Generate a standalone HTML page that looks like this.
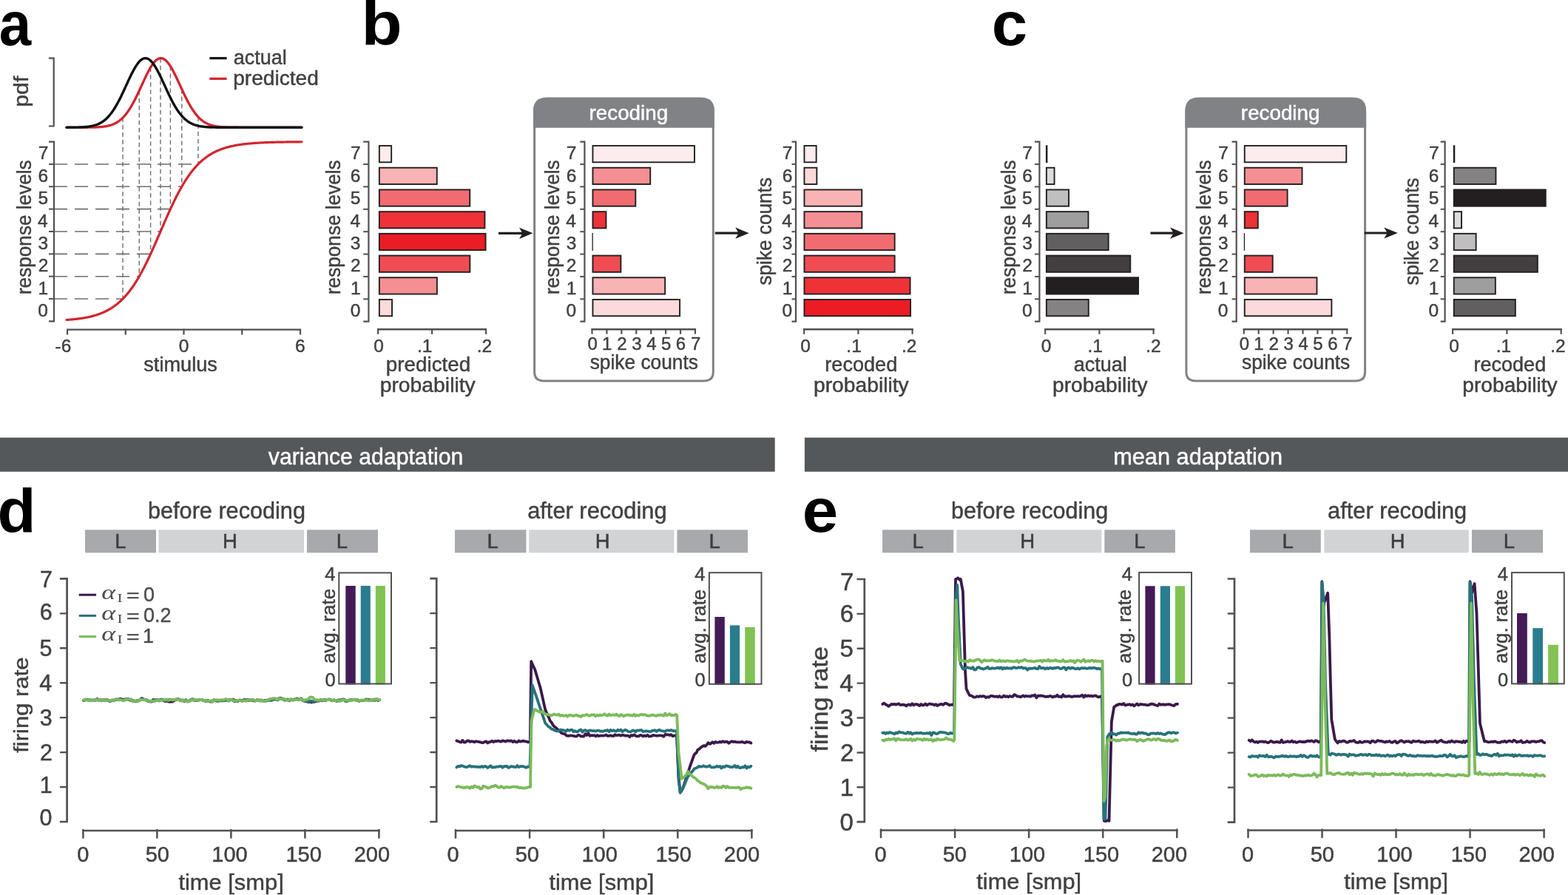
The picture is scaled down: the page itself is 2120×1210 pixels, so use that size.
<!DOCTYPE html>
<html><head><meta charset="utf-8"><title>Figure</title>
<style>html,body{margin:0;padding:0;background:#fff;}svg{display:block;}</style></head>
<body>
<svg width="2120" height="1210" viewBox="0 0 2120 1210">
<rect width="2120" height="1210" fill="#fff"/>
<text x="-1.14" y="60.50" font-size="84.00" font-family="Liberation Sans, sans-serif" font-weight="bold" fill="#000" stroke="none" textLength="43.45" lengthAdjust="spacingAndGlyphs">a</text>
<text x="488.53" y="60.50" font-size="84.00" font-family="Liberation Sans, sans-serif" font-weight="bold" fill="#000" stroke="none" textLength="55.16" lengthAdjust="spacingAndGlyphs">b</text>
<text x="1340.72" y="61.00" font-size="84.00" font-family="Liberation Sans, sans-serif" font-weight="bold" fill="#000" stroke="none" textLength="48.37" lengthAdjust="spacingAndGlyphs">c</text>
<text x="-3.41" y="719.50" font-size="84.00" font-family="Liberation Sans, sans-serif" font-weight="bold" fill="#000" stroke="none" textLength="52.01" lengthAdjust="spacingAndGlyphs">d</text>
<text x="1084.82" y="719.20" font-size="84.00" font-family="Liberation Sans, sans-serif" font-weight="bold" fill="#000" stroke="none" textLength="48.41" lengthAdjust="spacingAndGlyphs">e</text>
<path d="M65.9 78.6 H72.7 V170.5 H65.9" fill="none" stroke="#505153" stroke-width="2.2"/>
<text transform="translate(37.70 142.70) rotate(-90)" x="-1.96" y="0" font-size="27.50" font-family="Liberation Sans, sans-serif" stroke-width="0.45" fill="#414042" stroke="#414042" textLength="41.89" lengthAdjust="spacingAndGlyphs">pdf</text>
<line x1="73.00" y1="404.05" x2="166.02" y2="404.05" stroke="#6d6e71" stroke-width="1.60" stroke-dasharray="18 10"/>
<line x1="73.00" y1="373.70" x2="188.22" y2="373.70" stroke="#6d6e71" stroke-width="1.60" stroke-dasharray="18 10"/>
<line x1="73.00" y1="343.35" x2="203.62" y2="343.35" stroke="#6d6e71" stroke-width="1.60" stroke-dasharray="18 10"/>
<line x1="73.00" y1="313.00" x2="217.00" y2="313.00" stroke="#6d6e71" stroke-width="1.60" stroke-dasharray="18 10"/>
<line x1="73.00" y1="282.65" x2="230.38" y2="282.65" stroke="#6d6e71" stroke-width="1.60" stroke-dasharray="18 10"/>
<line x1="73.00" y1="252.30" x2="245.78" y2="252.30" stroke="#6d6e71" stroke-width="1.60" stroke-dasharray="18 10"/>
<line x1="73.00" y1="221.95" x2="267.98" y2="221.95" stroke="#6d6e71" stroke-width="1.60" stroke-dasharray="18 10"/>
<line x1="166.02" y1="159.12" x2="166.02" y2="404.05" stroke="#6d6e71" stroke-width="1.40" stroke-dasharray="6 4"/>
<line x1="188.22" y1="122.66" x2="188.22" y2="373.70" stroke="#6d6e71" stroke-width="1.40" stroke-dasharray="6 4"/>
<line x1="203.62" y1="91.14" x2="203.62" y2="343.35" stroke="#6d6e71" stroke-width="1.40" stroke-dasharray="6 4"/>
<line x1="217.00" y1="78.72" x2="217.00" y2="313.00" stroke="#6d6e71" stroke-width="1.40" stroke-dasharray="6 4"/>
<line x1="230.38" y1="89.51" x2="230.38" y2="282.65" stroke="#6d6e71" stroke-width="1.40" stroke-dasharray="6 4"/>
<line x1="245.78" y1="120.50" x2="245.78" y2="252.30" stroke="#6d6e71" stroke-width="1.40" stroke-dasharray="6 4"/>
<line x1="267.98" y1="158.09" x2="267.98" y2="221.95" stroke="#6d6e71" stroke-width="1.40" stroke-dasharray="6 4"/>
<path d="M90.00 172.30 L91.00 172.30 L92.00 172.30 L93.00 172.30 L94.00 172.30 L95.00 172.30 L96.00 172.30 L97.00 172.30 L98.00 172.30 L99.00 172.30 L100.00 172.30 L101.00 172.30 L102.00 172.30 L103.00 172.29 L104.00 172.29 L105.00 172.29 L106.00 172.29 L107.00 172.29 L108.00 172.29 L109.00 172.28 L110.00 172.28 L111.00 172.28 L112.00 172.28 L113.00 172.27 L114.00 172.27 L115.00 172.26 L116.00 172.25 L117.00 172.25 L118.00 172.24 L119.00 172.23 L120.00 172.22 L121.00 172.20 L122.00 172.19 L123.00 172.17 L124.00 172.15 L125.00 172.13 L126.00 172.11 L127.00 172.08 L128.00 172.05 L129.00 172.01 L130.00 171.97 L131.00 171.93 L132.00 171.88 L133.00 171.82 L134.00 171.76 L135.00 171.69 L136.00 171.61 L137.00 171.52 L138.00 171.43 L139.00 171.32 L140.00 171.20 L141.00 171.07 L142.00 170.92 L143.00 170.76 L144.00 170.58 L145.00 170.38 L146.00 170.17 L147.00 169.93 L148.00 169.67 L149.00 169.39 L150.00 169.08 L151.00 168.75 L152.00 168.38 L153.00 167.99 L154.00 167.56 L155.00 167.09 L156.00 166.59 L157.00 166.06 L158.00 165.48 L159.00 164.85 L160.00 164.19 L161.00 163.47 L162.00 162.71 L163.00 161.90 L164.00 161.03 L165.00 160.11 L166.00 159.14 L167.00 158.11 L168.00 157.02 L169.00 155.87 L170.00 154.66 L171.00 153.39 L172.00 152.06 L173.00 150.66 L174.00 149.21 L175.00 147.69 L176.00 146.12 L177.00 144.48 L178.00 142.78 L179.00 141.03 L180.00 139.22 L181.00 137.36 L182.00 135.45 L183.00 133.49 L184.00 131.49 L185.00 129.45 L186.00 127.37 L187.00 125.26 L188.00 123.13 L189.00 120.97 L190.00 118.80 L191.00 116.62 L192.00 114.44 L193.00 112.26 L194.00 110.09 L195.00 107.93 L196.00 105.80 L197.00 103.71 L198.00 101.65 L199.00 99.63 L200.00 97.67 L201.00 95.77 L202.00 93.94 L203.00 92.18 L204.00 90.50 L205.00 88.92 L206.00 87.42 L207.00 86.03 L208.00 84.74 L209.00 83.57 L210.00 82.51 L211.00 81.58 L212.00 80.77 L213.00 80.09 L214.00 79.54 L215.00 79.13 L216.00 78.86 L217.00 78.72 L218.00 78.72 L219.00 78.86 L220.00 79.13 L221.00 79.54 L222.00 80.09 L223.00 80.77 L224.00 81.58 L225.00 82.51 L226.00 83.57 L227.00 84.74 L228.00 86.03 L229.00 87.42 L230.00 88.92 L231.00 90.50 L232.00 92.18 L233.00 93.94 L234.00 95.77 L235.00 97.67 L236.00 99.63 L237.00 101.65 L238.00 103.71 L239.00 105.80 L240.00 107.93 L241.00 110.09 L242.00 112.26 L243.00 114.44 L244.00 116.62 L245.00 118.80 L246.00 120.97 L247.00 123.13 L248.00 125.26 L249.00 127.37 L250.00 129.45 L251.00 131.49 L252.00 133.49 L253.00 135.45 L254.00 137.36 L255.00 139.22 L256.00 141.03 L257.00 142.78 L258.00 144.48 L259.00 146.12 L260.00 147.69 L261.00 149.21 L262.00 150.66 L263.00 152.06 L264.00 153.39 L265.00 154.66 L266.00 155.87 L267.00 157.02 L268.00 158.11 L269.00 159.14 L270.00 160.11 L271.00 161.03 L272.00 161.90 L273.00 162.71 L274.00 163.47 L275.00 164.19 L276.00 164.85 L277.00 165.48 L278.00 166.06 L279.00 166.59 L280.00 167.09 L281.00 167.56 L282.00 167.99 L283.00 168.38 L284.00 168.75 L285.00 169.08 L286.00 169.39 L287.00 169.67 L288.00 169.93 L289.00 170.17 L290.00 170.38 L291.00 170.58 L292.00 170.76 L293.00 170.92 L294.00 171.07 L295.00 171.20 L296.00 171.32 L297.00 171.43 L298.00 171.52 L299.00 171.61 L300.00 171.69 L301.00 171.76 L302.00 171.82 L303.00 171.88 L304.00 171.93 L305.00 171.97 L306.00 172.01 L307.00 172.05 L308.00 172.08 L309.00 172.11 L310.00 172.13 L311.00 172.15 L312.00 172.17 L313.00 172.19 L314.00 172.20 L315.00 172.22 L316.00 172.23 L317.00 172.24 L318.00 172.25 L319.00 172.25 L320.00 172.26 L321.00 172.27 L322.00 172.27 L323.00 172.28 L324.00 172.28 L325.00 172.28 L326.00 172.28 L327.00 172.29 L328.00 172.29 L329.00 172.29 L330.00 172.29 L331.00 172.29 L332.00 172.29 L333.00 172.30 L334.00 172.30 L335.00 172.30 L336.00 172.30 L337.00 172.30 L338.00 172.30 L339.00 172.30 L340.00 172.30 L341.00 172.30 L342.00 172.30 L343.00 172.30 L344.00 172.30 L345.00 172.30 L346.00 172.30 L347.00 172.30 L348.00 172.30 L349.00 172.30 L350.00 172.30 L351.00 172.30 L352.00 172.30 L353.00 172.30 L354.00 172.30 L355.00 172.30 L356.00 172.30 L357.00 172.30 L358.00 172.30 L359.00 172.30 L360.00 172.30 L361.00 172.30 L362.00 172.30 L363.00 172.30 L364.00 172.30 L365.00 172.30 L366.00 172.30 L367.00 172.30 L368.00 172.30 L369.00 172.30 L370.00 172.30 L371.00 172.30 L372.00 172.30 L373.00 172.30 L374.00 172.30 L375.00 172.30 L376.00 172.30 L377.00 172.30 L378.00 172.30 L379.00 172.30 L380.00 172.30 L381.00 172.30 L382.00 172.30 L383.00 172.30 L384.00 172.30 L385.00 172.30 L386.00 172.30 L387.00 172.30 L388.00 172.30 L389.00 172.30 L390.00 172.30 L391.00 172.30 L392.00 172.30 L393.00 172.30 L394.00 172.30 L395.00 172.30 L396.00 172.30 L397.00 172.30 L398.00 172.30 L399.00 172.30 L400.00 172.30 L401.00 172.30 L402.00 172.30 L403.00 172.30 L404.00 172.30 L405.00 172.30 L406.00 172.30 L407.00 172.30 L408.00 172.30" fill="none" stroke="#d2262f" stroke-width="3.30" stroke-linejoin="round" stroke-linecap="round" />
<path d="M90.00 172.28 L91.00 172.28 L92.00 172.27 L93.00 172.27 L94.00 172.26 L95.00 172.25 L96.00 172.25 L97.00 172.24 L98.00 172.23 L99.00 172.22 L100.00 172.21 L101.00 172.19 L102.00 172.18 L103.00 172.16 L104.00 172.14 L105.00 172.11 L106.00 172.08 L107.00 172.05 L108.00 172.02 L109.00 171.98 L110.00 171.94 L111.00 171.89 L112.00 171.83 L113.00 171.77 L114.00 171.70 L115.00 171.62 L116.00 171.53 L117.00 171.44 L118.00 171.33 L119.00 171.21 L120.00 171.08 L121.00 170.93 L122.00 170.77 L123.00 170.60 L124.00 170.40 L125.00 170.19 L126.00 169.95 L127.00 169.70 L128.00 169.42 L129.00 169.11 L130.00 168.78 L131.00 168.42 L132.00 168.03 L133.00 167.60 L134.00 167.14 L135.00 166.65 L136.00 166.11 L137.00 165.54 L138.00 164.92 L139.00 164.25 L140.00 163.55 L141.00 162.79 L142.00 161.98 L143.00 161.12 L144.00 160.21 L145.00 159.24 L146.00 158.21 L147.00 157.13 L148.00 155.99 L149.00 154.78 L150.00 153.52 L151.00 152.19 L152.00 150.81 L153.00 149.36 L154.00 147.85 L155.00 146.28 L156.00 144.64 L157.00 142.95 L158.00 141.21 L159.00 139.40 L160.00 137.55 L161.00 135.64 L162.00 133.69 L163.00 131.69 L164.00 129.65 L165.00 127.58 L166.00 125.47 L167.00 123.34 L168.00 121.19 L169.00 119.02 L170.00 116.84 L171.00 114.66 L172.00 112.47 L173.00 110.30 L174.00 108.15 L175.00 106.02 L176.00 103.91 L177.00 101.85 L178.00 99.83 L179.00 97.87 L180.00 95.96 L181.00 94.12 L182.00 92.35 L183.00 90.67 L184.00 89.07 L185.00 87.57 L186.00 86.16 L187.00 84.87 L188.00 83.68 L189.00 82.61 L190.00 81.67 L191.00 80.85 L192.00 80.15 L193.00 79.59 L194.00 79.17 L195.00 78.88 L196.00 78.72 L197.00 78.71 L198.00 78.84 L199.00 79.10 L200.00 79.50 L201.00 80.03 L202.00 80.70 L203.00 81.49 L204.00 82.42 L205.00 83.46 L206.00 84.62 L207.00 85.90 L208.00 87.28 L209.00 88.76 L210.00 90.34 L211.00 92.01 L212.00 93.76 L213.00 95.59 L214.00 97.48 L215.00 99.43 L216.00 101.44 L217.00 103.50 L218.00 105.59 L219.00 107.72 L220.00 109.87 L221.00 112.04 L222.00 114.22 L223.00 116.40 L224.00 118.58 L225.00 120.75 L226.00 122.91 L227.00 125.05 L228.00 127.16 L229.00 129.24 L230.00 131.29 L231.00 133.29 L232.00 135.25 L233.00 137.17 L234.00 139.04 L235.00 140.85 L236.00 142.61 L237.00 144.31 L238.00 145.95 L239.00 147.54 L240.00 149.06 L241.00 150.52 L242.00 151.92 L243.00 153.26 L244.00 154.54 L245.00 155.75 L246.00 156.91 L247.00 158.00 L248.00 159.04 L249.00 160.02 L250.00 160.94 L251.00 161.81 L252.00 162.63 L253.00 163.40 L254.00 164.12 L255.00 164.79 L256.00 165.42 L257.00 166.00 L258.00 166.54 L259.00 167.05 L260.00 167.51 L261.00 167.94 L262.00 168.34 L263.00 168.71 L264.00 169.05 L265.00 169.36 L266.00 169.64 L267.00 169.91 L268.00 170.14 L269.00 170.36 L270.00 170.56 L271.00 170.74 L272.00 170.90 L273.00 171.05 L274.00 171.19 L275.00 171.31 L276.00 171.42 L277.00 171.52 L278.00 171.60 L279.00 171.68 L280.00 171.75 L281.00 171.82 L282.00 171.87 L283.00 171.93 L284.00 171.97 L285.00 172.01 L286.00 172.05 L287.00 172.08 L288.00 172.11 L289.00 172.13 L290.00 172.15 L291.00 172.17 L292.00 172.19 L293.00 172.20 L294.00 172.22 L295.00 172.23 L296.00 172.24 L297.00 172.25 L298.00 172.25 L299.00 172.26 L300.00 172.27 L301.00 172.27 L302.00 172.27 L303.00 172.28 L304.00 172.28 L305.00 172.28 L306.00 172.29 L307.00 172.29 L308.00 172.29 L309.00 172.29 L310.00 172.29 L311.00 172.29 L312.00 172.30 L313.00 172.30 L314.00 172.30 L315.00 172.30 L316.00 172.30 L317.00 172.30 L318.00 172.30 L319.00 172.30 L320.00 172.30 L321.00 172.30 L322.00 172.30 L323.00 172.30 L324.00 172.30 L325.00 172.30 L326.00 172.30 L327.00 172.30 L328.00 172.30 L329.00 172.30 L330.00 172.30 L331.00 172.30 L332.00 172.30 L333.00 172.30 L334.00 172.30 L335.00 172.30 L336.00 172.30 L337.00 172.30 L338.00 172.30 L339.00 172.30 L340.00 172.30 L341.00 172.30 L342.00 172.30 L343.00 172.30 L344.00 172.30 L345.00 172.30 L346.00 172.30 L347.00 172.30 L348.00 172.30 L349.00 172.30 L350.00 172.30 L351.00 172.30 L352.00 172.30 L353.00 172.30 L354.00 172.30 L355.00 172.30 L356.00 172.30 L357.00 172.30 L358.00 172.30 L359.00 172.30 L360.00 172.30 L361.00 172.30 L362.00 172.30 L363.00 172.30 L364.00 172.30 L365.00 172.30 L366.00 172.30 L367.00 172.30 L368.00 172.30 L369.00 172.30 L370.00 172.30 L371.00 172.30 L372.00 172.30 L373.00 172.30 L374.00 172.30 L375.00 172.30 L376.00 172.30 L377.00 172.30 L378.00 172.30 L379.00 172.30 L380.00 172.30 L381.00 172.30 L382.00 172.30 L383.00 172.30 L384.00 172.30 L385.00 172.30 L386.00 172.30 L387.00 172.30 L388.00 172.30 L389.00 172.30 L390.00 172.30 L391.00 172.30 L392.00 172.30 L393.00 172.30 L394.00 172.30 L395.00 172.30 L396.00 172.30 L397.00 172.30 L398.00 172.30 L399.00 172.30 L400.00 172.30 L401.00 172.30 L402.00 172.30 L403.00 172.30 L404.00 172.30 L405.00 172.30 L406.00 172.30 L407.00 172.30 L408.00 172.30" fill="none" stroke="#111111" stroke-width="3.40" stroke-linejoin="round" stroke-linecap="round" />
<line x1="283.40" y1="78.70" x2="306.60" y2="78.70" stroke="#111111" stroke-width="3.20" />
<line x1="283.40" y1="106.40" x2="306.60" y2="106.40" stroke="#d2262f" stroke-width="3.20" />
<text x="315.85" y="86.80" font-size="27.00" font-family="Liberation Sans, sans-serif" stroke-width="0.45" fill="#414042" stroke="#414042" textLength="71.93" lengthAdjust="spacingAndGlyphs">actual</text>
<text x="315.17" y="114.50" font-size="27.00" font-family="Liberation Sans, sans-serif" stroke-width="0.45" fill="#414042" stroke="#414042" textLength="115.62" lengthAdjust="spacingAndGlyphs">predicted</text>
<path d="M66 191.60 H73 V434.40 H66" fill="none" stroke="#505153" stroke-width="2.2"/>
<line x1="66.00" y1="221.95" x2="73.00" y2="221.95" stroke="#505153" stroke-width="2.00" />
<line x1="66.00" y1="252.30" x2="73.00" y2="252.30" stroke="#505153" stroke-width="2.00" />
<line x1="66.00" y1="282.65" x2="73.00" y2="282.65" stroke="#505153" stroke-width="2.00" />
<line x1="66.00" y1="313.00" x2="73.00" y2="313.00" stroke="#505153" stroke-width="2.00" />
<line x1="66.00" y1="343.35" x2="73.00" y2="343.35" stroke="#505153" stroke-width="2.00" />
<line x1="66.00" y1="373.70" x2="73.00" y2="373.70" stroke="#505153" stroke-width="2.00" />
<line x1="66.00" y1="404.05" x2="73.00" y2="404.05" stroke="#505153" stroke-width="2.00" />
<path d="M90.00 432.51 L91.00 432.44 L92.00 432.36 L93.00 432.28 L94.00 432.20 L95.00 432.12 L96.00 432.03 L97.00 431.94 L98.00 431.84 L99.00 431.74 L100.00 431.64 L101.00 431.53 L102.00 431.42 L103.00 431.31 L104.00 431.19 L105.00 431.07 L106.00 430.94 L107.00 430.81 L108.00 430.67 L109.00 430.53 L110.00 430.38 L111.00 430.23 L112.00 430.07 L113.00 429.90 L114.00 429.73 L115.00 429.55 L116.00 429.37 L117.00 429.17 L118.00 428.98 L119.00 428.77 L120.00 428.56 L121.00 428.33 L122.00 428.10 L123.00 427.87 L124.00 427.62 L125.00 427.36 L126.00 427.10 L127.00 426.82 L128.00 426.54 L129.00 426.24 L130.00 425.93 L131.00 425.62 L132.00 425.29 L133.00 424.95 L134.00 424.59 L135.00 424.23 L136.00 423.85 L137.00 423.46 L138.00 423.05 L139.00 422.63 L140.00 422.20 L141.00 421.75 L142.00 421.28 L143.00 420.80 L144.00 420.30 L145.00 419.78 L146.00 419.25 L147.00 418.70 L148.00 418.13 L149.00 417.54 L150.00 416.93 L151.00 416.30 L152.00 415.65 L153.00 414.98 L154.00 414.29 L155.00 413.58 L156.00 412.84 L157.00 412.07 L158.00 411.29 L159.00 410.48 L160.00 409.64 L161.00 408.78 L162.00 407.89 L163.00 406.98 L164.00 406.04 L165.00 405.07 L166.00 404.07 L167.00 403.04 L168.00 401.98 L169.00 400.90 L170.00 399.78 L171.00 398.63 L172.00 397.45 L173.00 396.24 L174.00 394.99 L175.00 393.72 L176.00 392.41 L177.00 391.07 L178.00 389.69 L179.00 388.28 L180.00 386.84 L181.00 385.36 L182.00 383.85 L183.00 382.31 L184.00 380.73 L185.00 379.12 L186.00 377.47 L187.00 375.79 L188.00 374.08 L189.00 372.33 L190.00 370.55 L191.00 368.74 L192.00 366.89 L193.00 365.02 L194.00 363.11 L195.00 361.17 L196.00 359.21 L197.00 357.21 L198.00 355.19 L199.00 353.14 L200.00 351.06 L201.00 348.96 L202.00 346.83 L203.00 344.68 L204.00 342.52 L205.00 340.33 L206.00 338.12 L207.00 335.89 L208.00 333.65 L209.00 331.39 L210.00 329.12 L211.00 326.84 L212.00 324.55 L213.00 322.25 L214.00 319.94 L215.00 317.63 L216.00 315.32 L217.00 313.00 L218.00 310.68 L219.00 308.37 L220.00 306.06 L221.00 303.75 L222.00 301.45 L223.00 299.16 L224.00 296.88 L225.00 294.61 L226.00 292.35 L227.00 290.11 L228.00 287.88 L229.00 285.67 L230.00 283.48 L231.00 281.32 L232.00 279.17 L233.00 277.04 L234.00 274.94 L235.00 272.86 L236.00 270.81 L237.00 268.79 L238.00 266.79 L239.00 264.83 L240.00 262.89 L241.00 260.98 L242.00 259.11 L243.00 257.26 L244.00 255.45 L245.00 253.67 L246.00 251.92 L247.00 250.21 L248.00 248.53 L249.00 246.88 L250.00 245.27 L251.00 243.69 L252.00 242.15 L253.00 240.64 L254.00 239.16 L255.00 237.72 L256.00 236.31 L257.00 234.93 L258.00 233.59 L259.00 232.28 L260.00 231.01 L261.00 229.76 L262.00 228.55 L263.00 227.37 L264.00 226.22 L265.00 225.10 L266.00 224.02 L267.00 222.96 L268.00 221.93 L269.00 220.93 L270.00 219.96 L271.00 219.02 L272.00 218.11 L273.00 217.22 L274.00 216.36 L275.00 215.52 L276.00 214.71 L277.00 213.93 L278.00 213.16 L279.00 212.42 L280.00 211.71 L281.00 211.02 L282.00 210.35 L283.00 209.70 L284.00 209.07 L285.00 208.46 L286.00 207.87 L287.00 207.30 L288.00 206.75 L289.00 206.22 L290.00 205.70 L291.00 205.20 L292.00 204.72 L293.00 204.25 L294.00 203.80 L295.00 203.37 L296.00 202.95 L297.00 202.54 L298.00 202.15 L299.00 201.77 L300.00 201.41 L301.00 201.05 L302.00 200.71 L303.00 200.38 L304.00 200.07 L305.00 199.76 L306.00 199.46 L307.00 199.18 L308.00 198.90 L309.00 198.64 L310.00 198.38 L311.00 198.13 L312.00 197.90 L313.00 197.67 L314.00 197.44 L315.00 197.23 L316.00 197.02 L317.00 196.83 L318.00 196.63 L319.00 196.45 L320.00 196.27 L321.00 196.10 L322.00 195.93 L323.00 195.77 L324.00 195.62 L325.00 195.47 L326.00 195.33 L327.00 195.19 L328.00 195.06 L329.00 194.93 L330.00 194.81 L331.00 194.69 L332.00 194.58 L333.00 194.47 L334.00 194.36 L335.00 194.26 L336.00 194.16 L337.00 194.06 L338.00 193.97 L339.00 193.88 L340.00 193.80 L341.00 193.72 L342.00 193.64 L343.00 193.56 L344.00 193.49 L345.00 193.42 L346.00 193.35 L347.00 193.29 L348.00 193.23 L349.00 193.16 L350.00 193.11 L351.00 193.05 L352.00 193.00 L353.00 192.94 L354.00 192.89 L355.00 192.85 L356.00 192.80 L357.00 192.75 L358.00 192.71 L359.00 192.67 L360.00 192.63 L361.00 192.59 L362.00 192.55 L363.00 192.52 L364.00 192.49 L365.00 192.45 L366.00 192.42 L367.00 192.39 L368.00 192.36 L369.00 192.33 L370.00 192.30 L371.00 192.28 L372.00 192.25 L373.00 192.23 L374.00 192.20 L375.00 192.18 L376.00 192.16 L377.00 192.14 L378.00 192.12 L379.00 192.10 L380.00 192.08 L381.00 192.06 L382.00 192.05 L383.00 192.03 L384.00 192.01 L385.00 192.00 L386.00 191.98 L387.00 191.97 L388.00 191.95 L389.00 191.94 L390.00 191.93 L391.00 191.92 L392.00 191.90 L393.00 191.89 L394.00 191.88 L395.00 191.87 L396.00 191.86 L397.00 191.85 L398.00 191.84 L399.00 191.83 L400.00 191.82 L401.00 191.82 L402.00 191.81 L403.00 191.80 L404.00 191.79 L405.00 191.79 L406.00 191.78 L407.00 191.77 L408.00 191.77" fill="none" stroke="#d2262f" stroke-width="3.20" stroke-linejoin="round" stroke-linecap="round" />
<text x="51.32" y="428.01" font-size="24.50" font-family="Liberation Sans, sans-serif" stroke-width="0.45" fill="#414042" stroke="#414042">0</text>
<text x="51.57" y="397.64" font-size="24.50" font-family="Liberation Sans, sans-serif" stroke-width="0.45" fill="#414042" stroke="#414042">1</text>
<text x="51.63" y="367.26" font-size="24.50" font-family="Liberation Sans, sans-serif" stroke-width="0.45" fill="#414042" stroke="#414042">2</text>
<text x="51.44" y="336.89" font-size="24.50" font-family="Liberation Sans, sans-serif" stroke-width="0.45" fill="#414042" stroke="#414042">3</text>
<text x="51.08" y="306.51" font-size="24.50" font-family="Liberation Sans, sans-serif" stroke-width="0.45" fill="#414042" stroke="#414042">4</text>
<text x="51.38" y="276.14" font-size="24.50" font-family="Liberation Sans, sans-serif" stroke-width="0.45" fill="#414042" stroke="#414042">5</text>
<text x="51.44" y="245.76" font-size="24.50" font-family="Liberation Sans, sans-serif" stroke-width="0.45" fill="#414042" stroke="#414042">6</text>
<text x="51.63" y="215.39" font-size="24.50" font-family="Liberation Sans, sans-serif" stroke-width="0.45" fill="#414042" stroke="#414042">7</text>
<text transform="translate(42.20 396.40) rotate(-90)" x="-1.70" y="0" font-size="28.00" font-family="Liberation Sans, sans-serif" stroke-width="0.45" fill="#414042" stroke="#414042" textLength="181.74" lengthAdjust="spacingAndGlyphs">response levels</text>
<line x1="91.00" y1="445.60" x2="406.00" y2="445.60" stroke="#505153" stroke-width="2.40" />
<line x1="91.00" y1="444.60" x2="91.00" y2="452.50" stroke="#505153" stroke-width="2.20" />
<line x1="169.75" y1="444.60" x2="169.75" y2="452.50" stroke="#505153" stroke-width="2.20" />
<line x1="248.50" y1="444.60" x2="248.50" y2="452.50" stroke="#505153" stroke-width="2.20" />
<line x1="327.25" y1="444.60" x2="327.25" y2="452.50" stroke="#505153" stroke-width="2.20" />
<line x1="406.00" y1="444.60" x2="406.00" y2="452.50" stroke="#505153" stroke-width="2.20" />
<text x="74.50" y="476.00" font-size="24.50" font-family="Liberation Sans, sans-serif" stroke-width="0.45" fill="#414042" stroke="#414042">-6</text>
<text x="241.67" y="476.00" font-size="24.50" font-family="Liberation Sans, sans-serif" stroke-width="0.45" fill="#414042" stroke="#414042">0</text>
<text x="399.11" y="476.00" font-size="24.50" font-family="Liberation Sans, sans-serif" stroke-width="0.45" fill="#414042" stroke="#414042">6</text>
<text x="194.25" y="502.00" font-size="27.00" font-family="Liberation Sans, sans-serif" stroke-width="0.45" fill="#414042" stroke="#414042" textLength="99.70" lengthAdjust="spacingAndGlyphs">stimulus</text>
<path d="M491.20 191.70 H498.40 V434.70 H491.20" fill="none" stroke="#505153" stroke-width="2.2"/>
<line x1="491.20" y1="222.07" x2="498.40" y2="222.07" stroke="#505153" stroke-width="2.00" />
<line x1="491.20" y1="252.45" x2="498.40" y2="252.45" stroke="#505153" stroke-width="2.00" />
<line x1="491.20" y1="282.82" x2="498.40" y2="282.82" stroke="#505153" stroke-width="2.00" />
<line x1="491.20" y1="313.20" x2="498.40" y2="313.20" stroke="#505153" stroke-width="2.00" />
<line x1="491.20" y1="343.57" x2="498.40" y2="343.57" stroke="#505153" stroke-width="2.00" />
<line x1="491.20" y1="373.95" x2="498.40" y2="373.95" stroke="#505153" stroke-width="2.00" />
<line x1="491.20" y1="404.32" x2="498.40" y2="404.32" stroke="#505153" stroke-width="2.00" />
<rect x="512.85" y="404.95" width="17.20" height="22.30" fill="#fcd9db" stroke="#231f20" stroke-width="1.90" />
<rect x="512.85" y="375.25" width="78.00" height="22.30" fill="#f48f93" stroke="#231f20" stroke-width="1.90" />
<rect x="512.85" y="345.55" width="122.50" height="22.30" fill="#ef4d53" stroke="#231f20" stroke-width="1.90" />
<rect x="512.85" y="315.85" width="143.70" height="22.30" fill="#ec1c24" stroke="#231f20" stroke-width="1.90" />
<rect x="512.85" y="286.15" width="142.60" height="22.30" fill="#ee3237" stroke="#231f20" stroke-width="1.90" />
<rect x="512.85" y="256.45" width="122.40" height="22.30" fill="#f16c70" stroke="#231f20" stroke-width="1.90" />
<rect x="512.85" y="226.75" width="77.90" height="22.30" fill="#f8b3b5" stroke="#231f20" stroke-width="1.90" />
<rect x="512.85" y="197.05" width="16.30" height="22.30" fill="#fdeced" stroke="#231f20" stroke-width="1.90" />
<text x="473.72" y="428.01" font-size="24.50" font-family="Liberation Sans, sans-serif" stroke-width="0.45" fill="#414042" stroke="#414042">0</text>
<text x="473.97" y="397.64" font-size="24.50" font-family="Liberation Sans, sans-serif" stroke-width="0.45" fill="#414042" stroke="#414042">1</text>
<text x="474.03" y="367.26" font-size="24.50" font-family="Liberation Sans, sans-serif" stroke-width="0.45" fill="#414042" stroke="#414042">2</text>
<text x="473.84" y="336.89" font-size="24.50" font-family="Liberation Sans, sans-serif" stroke-width="0.45" fill="#414042" stroke="#414042">3</text>
<text x="473.48" y="306.51" font-size="24.50" font-family="Liberation Sans, sans-serif" stroke-width="0.45" fill="#414042" stroke="#414042">4</text>
<text x="473.78" y="276.14" font-size="24.50" font-family="Liberation Sans, sans-serif" stroke-width="0.45" fill="#414042" stroke="#414042">5</text>
<text x="473.84" y="245.76" font-size="24.50" font-family="Liberation Sans, sans-serif" stroke-width="0.45" fill="#414042" stroke="#414042">6</text>
<text x="474.03" y="215.39" font-size="24.50" font-family="Liberation Sans, sans-serif" stroke-width="0.45" fill="#414042" stroke="#414042">7</text>
<text transform="translate(459.80 396.40) rotate(-90)" x="-1.70" y="0" font-size="28.00" font-family="Liberation Sans, sans-serif" stroke-width="0.45" fill="#414042" stroke="#414042" textLength="181.74" lengthAdjust="spacingAndGlyphs">response levels</text>
<line x1="510.00" y1="445.20" x2="658.10" y2="445.20" stroke="#505153" stroke-width="2.40" />
<line x1="511.10" y1="444.20" x2="511.10" y2="451.80" stroke="#505153" stroke-width="2.20" />
<line x1="584.05" y1="444.20" x2="584.05" y2="451.80" stroke="#505153" stroke-width="2.20" />
<line x1="657.00" y1="444.20" x2="657.00" y2="451.80" stroke="#505153" stroke-width="2.20" />
<text x="505.17" y="476.30" font-size="24.50" font-family="Liberation Sans, sans-serif" stroke-width="0.45" fill="#414042" stroke="#414042">0</text>
<text x="563.97" y="476.30" font-size="24.50" font-family="Liberation Sans, sans-serif" stroke-width="0.45" fill="#414042" stroke="#414042">.1</text>
<text x="644.73" y="476.30" font-size="24.50" font-family="Liberation Sans, sans-serif" stroke-width="0.45" fill="#414042" stroke="#414042">.2</text>
<text x="521.89" y="502.20" font-size="27.00" font-family="Liberation Sans, sans-serif" stroke-width="0.45" fill="#414042" stroke="#414042" textLength="114.38" lengthAdjust="spacingAndGlyphs">predicted</text>
<text x="513.66" y="530.30" font-size="27.00" font-family="Liberation Sans, sans-serif" stroke-width="0.45" fill="#414042" stroke="#414042" textLength="129.13" lengthAdjust="spacingAndGlyphs">probability</text>
<line x1="674.00" y1="315.30" x2="710.50" y2="315.30" stroke="#231f20" stroke-width="3.20" />
<path d="M720.50 315.30 L702.00 307.70 L706.50 315.30 L702.00 322.90 Z" fill="#231f20"/>
<path d="M721.10 172.80 V149.70 Q721.10 131.70 739.10 131.70 H947.80 Q965.80 131.70 965.80 149.70 V172.80 Z" fill="#808285"/>
<path d="M722.60 151.20 V502.90 Q722.60 514.90 734.60 514.90 H952.30 Q964.30 514.90 964.30 502.90 V151.20 Q964.30 133.20 946.30 133.20 H740.60 Q722.60 133.20 722.60 151.20 Z" fill="none" stroke="#808285" stroke-width="3"/>
<text x="796.59" y="161.80" font-size="27.00" font-family="Liberation Sans, sans-serif" stroke-width="0.45" fill="#ffffff" stroke="#ffffff" textLength="106.57" lengthAdjust="spacingAndGlyphs">recoding</text>
<path d="M784.30 191.70 H790.40 V434.70 H784.30" fill="none" stroke="#505153" stroke-width="2.2"/>
<line x1="784.30" y1="222.07" x2="790.40" y2="222.07" stroke="#505153" stroke-width="2.00" />
<line x1="784.30" y1="252.45" x2="790.40" y2="252.45" stroke="#505153" stroke-width="2.00" />
<line x1="784.30" y1="282.82" x2="790.40" y2="282.82" stroke="#505153" stroke-width="2.00" />
<line x1="784.30" y1="313.20" x2="790.40" y2="313.20" stroke="#505153" stroke-width="2.00" />
<line x1="784.30" y1="343.57" x2="790.40" y2="343.57" stroke="#505153" stroke-width="2.00" />
<line x1="784.30" y1="373.95" x2="790.40" y2="373.95" stroke="#505153" stroke-width="2.00" />
<line x1="784.30" y1="404.32" x2="790.40" y2="404.32" stroke="#505153" stroke-width="2.00" />
<rect x="801.45" y="404.95" width="117.62" height="22.30" fill="#fcd9db" stroke="#231f20" stroke-width="1.90" />
<rect x="801.45" y="375.25" width="97.70" height="22.30" fill="#f8b3b5" stroke="#231f20" stroke-width="1.90" />
<rect x="801.45" y="345.55" width="37.94" height="22.30" fill="#ef4d53" stroke="#231f20" stroke-width="1.90" />
<line x1="801.15" y1="315.10" x2="801.15" y2="338.90" stroke="#231f20" stroke-width="1.30" />
<rect x="801.45" y="286.15" width="18.02" height="22.30" fill="#ee3237" stroke="#231f20" stroke-width="1.90" />
<rect x="801.45" y="256.45" width="57.86" height="22.30" fill="#f16c70" stroke="#231f20" stroke-width="1.90" />
<rect x="801.45" y="226.75" width="77.78" height="22.30" fill="#f48f93" stroke="#231f20" stroke-width="1.90" />
<rect x="801.45" y="197.05" width="137.54" height="22.30" fill="#fdeced" stroke="#231f20" stroke-width="1.90" />
<text x="765.52" y="428.01" font-size="24.50" font-family="Liberation Sans, sans-serif" stroke-width="0.45" fill="#414042" stroke="#414042">0</text>
<text x="765.77" y="397.64" font-size="24.50" font-family="Liberation Sans, sans-serif" stroke-width="0.45" fill="#414042" stroke="#414042">1</text>
<text x="765.83" y="367.26" font-size="24.50" font-family="Liberation Sans, sans-serif" stroke-width="0.45" fill="#414042" stroke="#414042">2</text>
<text x="765.64" y="336.89" font-size="24.50" font-family="Liberation Sans, sans-serif" stroke-width="0.45" fill="#414042" stroke="#414042">3</text>
<text x="765.28" y="306.51" font-size="24.50" font-family="Liberation Sans, sans-serif" stroke-width="0.45" fill="#414042" stroke="#414042">4</text>
<text x="765.58" y="276.14" font-size="24.50" font-family="Liberation Sans, sans-serif" stroke-width="0.45" fill="#414042" stroke="#414042">5</text>
<text x="765.64" y="245.76" font-size="24.50" font-family="Liberation Sans, sans-serif" stroke-width="0.45" fill="#414042" stroke="#414042">6</text>
<text x="765.83" y="215.39" font-size="24.50" font-family="Liberation Sans, sans-serif" stroke-width="0.45" fill="#414042" stroke="#414042">7</text>
<text transform="translate(756.00 396.40) rotate(-90)" x="-1.70" y="0" font-size="28.00" font-family="Liberation Sans, sans-serif" stroke-width="0.45" fill="#414042" stroke="#414042" textLength="181.74" lengthAdjust="spacingAndGlyphs">response levels</text>
<line x1="799.40" y1="445.20" x2="941.04" y2="445.20" stroke="#505153" stroke-width="2.40" />
<line x1="800.50" y1="444.20" x2="800.50" y2="451.60" stroke="#505153" stroke-width="2.20" />
<text x="794.41" y="472.50" font-size="24.00" font-family="Liberation Sans, sans-serif" stroke-width="0.45" fill="#414042" stroke="#414042">0</text>
<line x1="820.42" y1="444.20" x2="820.42" y2="451.60" stroke="#505153" stroke-width="2.20" />
<text x="814.03" y="472.50" font-size="24.00" font-family="Liberation Sans, sans-serif" stroke-width="0.45" fill="#414042" stroke="#414042">1</text>
<line x1="840.34" y1="444.20" x2="840.34" y2="451.60" stroke="#505153" stroke-width="2.20" />
<text x="834.28" y="472.50" font-size="24.00" font-family="Liberation Sans, sans-serif" stroke-width="0.45" fill="#414042" stroke="#414042">2</text>
<line x1="860.26" y1="444.20" x2="860.26" y2="451.60" stroke="#505153" stroke-width="2.20" />
<text x="854.26" y="472.50" font-size="24.00" font-family="Liberation Sans, sans-serif" stroke-width="0.45" fill="#414042" stroke="#414042">3</text>
<line x1="880.18" y1="444.20" x2="880.18" y2="451.60" stroke="#505153" stroke-width="2.20" />
<text x="874.18" y="472.50" font-size="24.00" font-family="Liberation Sans, sans-serif" stroke-width="0.45" fill="#414042" stroke="#414042">4</text>
<line x1="900.10" y1="444.20" x2="900.10" y2="451.60" stroke="#505153" stroke-width="2.20" />
<text x="894.04" y="472.50" font-size="24.00" font-family="Liberation Sans, sans-serif" stroke-width="0.45" fill="#414042" stroke="#414042">5</text>
<line x1="920.02" y1="444.20" x2="920.02" y2="451.60" stroke="#505153" stroke-width="2.20" />
<text x="913.87" y="472.50" font-size="24.00" font-family="Liberation Sans, sans-serif" stroke-width="0.45" fill="#414042" stroke="#414042">6</text>
<line x1="939.94" y1="444.20" x2="939.94" y2="451.60" stroke="#505153" stroke-width="2.20" />
<text x="933.88" y="472.50" font-size="24.00" font-family="Liberation Sans, sans-serif" stroke-width="0.45" fill="#414042" stroke="#414042">7</text>
<text x="797.68" y="498.60" font-size="27.00" font-family="Liberation Sans, sans-serif" stroke-width="0.45" fill="#414042" stroke="#414042" textLength="146.31" lengthAdjust="spacingAndGlyphs">spike counts</text>
<line x1="966.80" y1="315.20" x2="1002.70" y2="315.20" stroke="#231f20" stroke-width="3.20" />
<path d="M1012.70 315.20 L994.20 307.60 L998.70 315.20 L994.20 322.80 Z" fill="#231f20"/>
<path d="M1070.50 191.70 H1076.00 V434.70 H1070.50" fill="none" stroke="#505153" stroke-width="2.2"/>
<line x1="1070.50" y1="222.07" x2="1076.00" y2="222.07" stroke="#505153" stroke-width="2.00" />
<line x1="1070.50" y1="252.45" x2="1076.00" y2="252.45" stroke="#505153" stroke-width="2.00" />
<line x1="1070.50" y1="282.82" x2="1076.00" y2="282.82" stroke="#505153" stroke-width="2.00" />
<line x1="1070.50" y1="313.20" x2="1076.00" y2="313.20" stroke="#505153" stroke-width="2.00" />
<line x1="1070.50" y1="343.57" x2="1076.00" y2="343.57" stroke="#505153" stroke-width="2.00" />
<line x1="1070.50" y1="373.95" x2="1076.00" y2="373.95" stroke="#505153" stroke-width="2.00" />
<line x1="1070.50" y1="404.32" x2="1076.00" y2="404.32" stroke="#505153" stroke-width="2.00" />
<rect x="1087.45" y="404.95" width="143.60" height="22.30" fill="#ec1c24" stroke="#231f20" stroke-width="1.90" />
<rect x="1087.45" y="375.25" width="143.10" height="22.30" fill="#ee3237" stroke="#231f20" stroke-width="1.90" />
<rect x="1087.45" y="345.55" width="122.20" height="22.30" fill="#ef4d53" stroke="#231f20" stroke-width="1.90" />
<rect x="1087.45" y="315.85" width="122.20" height="22.30" fill="#f16c70" stroke="#231f20" stroke-width="1.90" />
<rect x="1087.45" y="286.15" width="77.90" height="22.30" fill="#f48f93" stroke="#231f20" stroke-width="1.90" />
<rect x="1087.45" y="256.45" width="77.80" height="22.30" fill="#f8b3b5" stroke="#231f20" stroke-width="1.90" />
<rect x="1087.45" y="226.75" width="16.90" height="22.30" fill="#fcd9db" stroke="#231f20" stroke-width="1.90" />
<rect x="1087.45" y="197.05" width="16.20" height="22.30" fill="#fdeced" stroke="#231f20" stroke-width="1.90" />
<text x="1057.52" y="428.01" font-size="24.50" font-family="Liberation Sans, sans-serif" stroke-width="0.45" fill="#414042" stroke="#414042">0</text>
<text x="1057.77" y="397.64" font-size="24.50" font-family="Liberation Sans, sans-serif" stroke-width="0.45" fill="#414042" stroke="#414042">1</text>
<text x="1057.83" y="367.26" font-size="24.50" font-family="Liberation Sans, sans-serif" stroke-width="0.45" fill="#414042" stroke="#414042">2</text>
<text x="1057.64" y="336.89" font-size="24.50" font-family="Liberation Sans, sans-serif" stroke-width="0.45" fill="#414042" stroke="#414042">3</text>
<text x="1057.28" y="306.51" font-size="24.50" font-family="Liberation Sans, sans-serif" stroke-width="0.45" fill="#414042" stroke="#414042">4</text>
<text x="1057.58" y="276.14" font-size="24.50" font-family="Liberation Sans, sans-serif" stroke-width="0.45" fill="#414042" stroke="#414042">5</text>
<text x="1057.64" y="245.76" font-size="24.50" font-family="Liberation Sans, sans-serif" stroke-width="0.45" fill="#414042" stroke="#414042">6</text>
<text x="1057.83" y="215.39" font-size="24.50" font-family="Liberation Sans, sans-serif" stroke-width="0.45" fill="#414042" stroke="#414042">7</text>
<text transform="translate(1043.20 384.80) rotate(-90)" x="-0.72" y="0" font-size="27.00" font-family="Liberation Sans, sans-serif" stroke-width="0.45" fill="#414042" stroke="#414042" textLength="145.50" lengthAdjust="spacingAndGlyphs">spike counts</text>
<line x1="1086.10" y1="445.20" x2="1234.70" y2="445.20" stroke="#505153" stroke-width="2.40" />
<line x1="1087.20" y1="444.20" x2="1087.20" y2="451.80" stroke="#505153" stroke-width="2.20" />
<line x1="1160.40" y1="444.20" x2="1160.40" y2="451.80" stroke="#505153" stroke-width="2.20" />
<line x1="1233.60" y1="444.20" x2="1233.60" y2="451.80" stroke="#505153" stroke-width="2.20" />
<text x="1082.17" y="476.30" font-size="24.50" font-family="Liberation Sans, sans-serif" stroke-width="0.45" fill="#414042" stroke="#414042">0</text>
<text x="1144.37" y="476.30" font-size="24.50" font-family="Liberation Sans, sans-serif" stroke-width="0.45" fill="#414042" stroke="#414042">.1</text>
<text x="1219.03" y="476.30" font-size="24.50" font-family="Liberation Sans, sans-serif" stroke-width="0.45" fill="#414042" stroke="#414042">.2</text>
<text x="1115.34" y="502.20" font-size="27.00" font-family="Liberation Sans, sans-serif" stroke-width="0.45" fill="#414042" stroke="#414042" textLength="97.89" lengthAdjust="spacingAndGlyphs">recoded</text>
<text x="1099.96" y="530.30" font-size="27.00" font-family="Liberation Sans, sans-serif" stroke-width="0.45" fill="#414042" stroke="#414042" textLength="128.73" lengthAdjust="spacingAndGlyphs">probability</text>
<path d="M1399.00 191.70 H1405.40 V434.70 H1399.00" fill="none" stroke="#505153" stroke-width="2.2"/>
<line x1="1399.00" y1="222.07" x2="1405.40" y2="222.07" stroke="#505153" stroke-width="2.00" />
<line x1="1399.00" y1="252.45" x2="1405.40" y2="252.45" stroke="#505153" stroke-width="2.00" />
<line x1="1399.00" y1="282.82" x2="1405.40" y2="282.82" stroke="#505153" stroke-width="2.00" />
<line x1="1399.00" y1="313.20" x2="1405.40" y2="313.20" stroke="#505153" stroke-width="2.00" />
<line x1="1399.00" y1="343.57" x2="1405.40" y2="343.57" stroke="#505153" stroke-width="2.00" />
<line x1="1399.00" y1="373.95" x2="1405.40" y2="373.95" stroke="#505153" stroke-width="2.00" />
<line x1="1399.00" y1="404.32" x2="1405.40" y2="404.32" stroke="#505153" stroke-width="2.00" />
<rect x="1414.85" y="404.95" width="56.90" height="22.30" fill="#858283" stroke="#231f20" stroke-width="1.90" />
<rect x="1414.85" y="375.25" width="124.20" height="22.30" fill="#231f20" stroke="#231f20" stroke-width="1.90" />
<rect x="1414.85" y="345.55" width="113.40" height="22.30" fill="#433f40" stroke="#231f20" stroke-width="1.90" />
<rect x="1414.85" y="315.85" width="83.80" height="22.30" fill="#625f60" stroke="#231f20" stroke-width="1.90" />
<rect x="1414.85" y="286.15" width="56.60" height="22.30" fill="#9e9e9f" stroke="#231f20" stroke-width="1.90" />
<rect x="1414.85" y="256.45" width="30.20" height="22.30" fill="#c0bfc0" stroke="#231f20" stroke-width="1.90" />
<rect x="1414.85" y="226.75" width="10.70" height="22.30" fill="#dcdcdd" stroke="#231f20" stroke-width="1.90" />
<line x1="1415.15" y1="196.30" x2="1415.15" y2="220.10" stroke="#231f20" stroke-width="2.50" />
<text x="1382.02" y="428.01" font-size="24.50" font-family="Liberation Sans, sans-serif" stroke-width="0.45" fill="#414042" stroke="#414042">0</text>
<text x="1382.27" y="397.64" font-size="24.50" font-family="Liberation Sans, sans-serif" stroke-width="0.45" fill="#414042" stroke="#414042">1</text>
<text x="1382.33" y="367.26" font-size="24.50" font-family="Liberation Sans, sans-serif" stroke-width="0.45" fill="#414042" stroke="#414042">2</text>
<text x="1382.14" y="336.89" font-size="24.50" font-family="Liberation Sans, sans-serif" stroke-width="0.45" fill="#414042" stroke="#414042">3</text>
<text x="1381.78" y="306.51" font-size="24.50" font-family="Liberation Sans, sans-serif" stroke-width="0.45" fill="#414042" stroke="#414042">4</text>
<text x="1382.08" y="276.14" font-size="24.50" font-family="Liberation Sans, sans-serif" stroke-width="0.45" fill="#414042" stroke="#414042">5</text>
<text x="1382.14" y="245.76" font-size="24.50" font-family="Liberation Sans, sans-serif" stroke-width="0.45" fill="#414042" stroke="#414042">6</text>
<text x="1382.33" y="215.39" font-size="24.50" font-family="Liberation Sans, sans-serif" stroke-width="0.45" fill="#414042" stroke="#414042">7</text>
<text transform="translate(1372.80 396.40) rotate(-90)" x="-1.70" y="0" font-size="28.00" font-family="Liberation Sans, sans-serif" stroke-width="0.45" fill="#414042" stroke="#414042" textLength="181.74" lengthAdjust="spacingAndGlyphs">response levels</text>
<line x1="1412.10" y1="445.20" x2="1560.70" y2="445.20" stroke="#505153" stroke-width="2.40" />
<line x1="1413.20" y1="444.20" x2="1413.20" y2="451.80" stroke="#505153" stroke-width="2.20" />
<line x1="1486.40" y1="444.20" x2="1486.40" y2="451.80" stroke="#505153" stroke-width="2.20" />
<line x1="1559.60" y1="444.20" x2="1559.60" y2="451.80" stroke="#505153" stroke-width="2.20" />
<text x="1407.67" y="476.30" font-size="24.50" font-family="Liberation Sans, sans-serif" stroke-width="0.45" fill="#414042" stroke="#414042">0</text>
<text x="1470.47" y="476.30" font-size="24.50" font-family="Liberation Sans, sans-serif" stroke-width="0.45" fill="#414042" stroke="#414042">.1</text>
<text x="1549.23" y="476.30" font-size="24.50" font-family="Liberation Sans, sans-serif" stroke-width="0.45" fill="#414042" stroke="#414042">.2</text>
<text x="1451.75" y="502.00" font-size="27.00" font-family="Liberation Sans, sans-serif" stroke-width="0.45" fill="#414042" stroke="#414042" textLength="72.03" lengthAdjust="spacingAndGlyphs">actual</text>
<text x="1422.97" y="530.30" font-size="27.00" font-family="Liberation Sans, sans-serif" stroke-width="0.45" fill="#414042" stroke="#414042" textLength="128.53" lengthAdjust="spacingAndGlyphs">probability</text>
<line x1="1555.50" y1="315.20" x2="1590.60" y2="315.20" stroke="#231f20" stroke-width="3.20" />
<path d="M1600.60 315.20 L1582.10 307.60 L1586.60 315.20 L1582.10 322.80 Z" fill="#231f20"/>
<path d="M1602.40 172.80 V149.70 Q1602.40 131.70 1620.40 131.70 H1829.10 Q1847.10 131.70 1847.10 149.70 V172.80 Z" fill="#808285"/>
<path d="M1603.90 151.20 V502.90 Q1603.90 514.90 1615.90 514.90 H1833.60 Q1845.60 514.90 1845.60 502.90 V151.20 Q1845.60 133.20 1827.60 133.20 H1621.90 Q1603.90 133.20 1603.90 151.20 Z" fill="none" stroke="#808285" stroke-width="3"/>
<text x="1677.89" y="161.80" font-size="27.00" font-family="Liberation Sans, sans-serif" stroke-width="0.45" fill="#ffffff" stroke="#ffffff" textLength="106.57" lengthAdjust="spacingAndGlyphs">recoding</text>
<path d="M1665.60 191.70 H1671.70 V434.70 H1665.60" fill="none" stroke="#505153" stroke-width="2.2"/>
<line x1="1665.60" y1="222.07" x2="1671.70" y2="222.07" stroke="#505153" stroke-width="2.00" />
<line x1="1665.60" y1="252.45" x2="1671.70" y2="252.45" stroke="#505153" stroke-width="2.00" />
<line x1="1665.60" y1="282.82" x2="1671.70" y2="282.82" stroke="#505153" stroke-width="2.00" />
<line x1="1665.60" y1="313.20" x2="1671.70" y2="313.20" stroke="#505153" stroke-width="2.00" />
<line x1="1665.60" y1="343.57" x2="1671.70" y2="343.57" stroke="#505153" stroke-width="2.00" />
<line x1="1665.60" y1="373.95" x2="1671.70" y2="373.95" stroke="#505153" stroke-width="2.00" />
<line x1="1665.60" y1="404.32" x2="1671.70" y2="404.32" stroke="#505153" stroke-width="2.00" />
<rect x="1682.75" y="404.95" width="117.62" height="22.30" fill="#fcd9db" stroke="#231f20" stroke-width="1.90" />
<rect x="1682.75" y="375.25" width="97.70" height="22.30" fill="#f8b3b5" stroke="#231f20" stroke-width="1.90" />
<rect x="1682.75" y="345.55" width="37.94" height="22.30" fill="#ef4d53" stroke="#231f20" stroke-width="1.90" />
<line x1="1682.45" y1="315.10" x2="1682.45" y2="338.90" stroke="#231f20" stroke-width="1.30" />
<rect x="1682.75" y="286.15" width="18.02" height="22.30" fill="#ee3237" stroke="#231f20" stroke-width="1.90" />
<rect x="1682.75" y="256.45" width="57.86" height="22.30" fill="#f16c70" stroke="#231f20" stroke-width="1.90" />
<rect x="1682.75" y="226.75" width="77.78" height="22.30" fill="#f48f93" stroke="#231f20" stroke-width="1.90" />
<rect x="1682.75" y="197.05" width="137.54" height="22.30" fill="#fdeced" stroke="#231f20" stroke-width="1.90" />
<text x="1646.82" y="428.01" font-size="24.50" font-family="Liberation Sans, sans-serif" stroke-width="0.45" fill="#414042" stroke="#414042">0</text>
<text x="1647.07" y="397.64" font-size="24.50" font-family="Liberation Sans, sans-serif" stroke-width="0.45" fill="#414042" stroke="#414042">1</text>
<text x="1647.13" y="367.26" font-size="24.50" font-family="Liberation Sans, sans-serif" stroke-width="0.45" fill="#414042" stroke="#414042">2</text>
<text x="1646.94" y="336.89" font-size="24.50" font-family="Liberation Sans, sans-serif" stroke-width="0.45" fill="#414042" stroke="#414042">3</text>
<text x="1646.58" y="306.51" font-size="24.50" font-family="Liberation Sans, sans-serif" stroke-width="0.45" fill="#414042" stroke="#414042">4</text>
<text x="1646.88" y="276.14" font-size="24.50" font-family="Liberation Sans, sans-serif" stroke-width="0.45" fill="#414042" stroke="#414042">5</text>
<text x="1646.94" y="245.76" font-size="24.50" font-family="Liberation Sans, sans-serif" stroke-width="0.45" fill="#414042" stroke="#414042">6</text>
<text x="1647.13" y="215.39" font-size="24.50" font-family="Liberation Sans, sans-serif" stroke-width="0.45" fill="#414042" stroke="#414042">7</text>
<text transform="translate(1637.30 396.40) rotate(-90)" x="-1.70" y="0" font-size="28.00" font-family="Liberation Sans, sans-serif" stroke-width="0.45" fill="#414042" stroke="#414042" textLength="181.74" lengthAdjust="spacingAndGlyphs">response levels</text>
<line x1="1680.70" y1="445.20" x2="1822.34" y2="445.20" stroke="#505153" stroke-width="2.40" />
<line x1="1681.80" y1="444.20" x2="1681.80" y2="451.60" stroke="#505153" stroke-width="2.20" />
<text x="1675.71" y="472.50" font-size="24.00" font-family="Liberation Sans, sans-serif" stroke-width="0.45" fill="#414042" stroke="#414042">0</text>
<line x1="1701.72" y1="444.20" x2="1701.72" y2="451.60" stroke="#505153" stroke-width="2.20" />
<text x="1695.33" y="472.50" font-size="24.00" font-family="Liberation Sans, sans-serif" stroke-width="0.45" fill="#414042" stroke="#414042">1</text>
<line x1="1721.64" y1="444.20" x2="1721.64" y2="451.60" stroke="#505153" stroke-width="2.20" />
<text x="1715.58" y="472.50" font-size="24.00" font-family="Liberation Sans, sans-serif" stroke-width="0.45" fill="#414042" stroke="#414042">2</text>
<line x1="1741.56" y1="444.20" x2="1741.56" y2="451.60" stroke="#505153" stroke-width="2.20" />
<text x="1735.56" y="472.50" font-size="24.00" font-family="Liberation Sans, sans-serif" stroke-width="0.45" fill="#414042" stroke="#414042">3</text>
<line x1="1761.48" y1="444.20" x2="1761.48" y2="451.60" stroke="#505153" stroke-width="2.20" />
<text x="1755.48" y="472.50" font-size="24.00" font-family="Liberation Sans, sans-serif" stroke-width="0.45" fill="#414042" stroke="#414042">4</text>
<line x1="1781.40" y1="444.20" x2="1781.40" y2="451.60" stroke="#505153" stroke-width="2.20" />
<text x="1775.34" y="472.50" font-size="24.00" font-family="Liberation Sans, sans-serif" stroke-width="0.45" fill="#414042" stroke="#414042">5</text>
<line x1="1801.32" y1="444.20" x2="1801.32" y2="451.60" stroke="#505153" stroke-width="2.20" />
<text x="1795.17" y="472.50" font-size="24.00" font-family="Liberation Sans, sans-serif" stroke-width="0.45" fill="#414042" stroke="#414042">6</text>
<line x1="1821.24" y1="444.20" x2="1821.24" y2="451.60" stroke="#505153" stroke-width="2.20" />
<text x="1815.18" y="472.50" font-size="24.00" font-family="Liberation Sans, sans-serif" stroke-width="0.45" fill="#414042" stroke="#414042">7</text>
<text x="1678.98" y="498.60" font-size="27.00" font-family="Liberation Sans, sans-serif" stroke-width="0.45" fill="#414042" stroke="#414042" textLength="146.31" lengthAdjust="spacingAndGlyphs">spike counts</text>
<line x1="1844.80" y1="315.00" x2="1879.80" y2="315.00" stroke="#231f20" stroke-width="3.20" />
<path d="M1889.80 315.00 L1871.30 307.40 L1875.80 315.00 L1871.30 322.60 Z" fill="#231f20"/>
<path d="M1947.70 191.70 H1953.60 V434.70 H1947.70" fill="none" stroke="#505153" stroke-width="2.2"/>
<line x1="1947.70" y1="222.07" x2="1953.60" y2="222.07" stroke="#505153" stroke-width="2.00" />
<line x1="1947.70" y1="252.45" x2="1953.60" y2="252.45" stroke="#505153" stroke-width="2.00" />
<line x1="1947.70" y1="282.82" x2="1953.60" y2="282.82" stroke="#505153" stroke-width="2.00" />
<line x1="1947.70" y1="313.20" x2="1953.60" y2="313.20" stroke="#505153" stroke-width="2.00" />
<line x1="1947.70" y1="343.57" x2="1953.60" y2="343.57" stroke="#505153" stroke-width="2.00" />
<line x1="1947.70" y1="373.95" x2="1953.60" y2="373.95" stroke="#505153" stroke-width="2.00" />
<line x1="1947.70" y1="404.32" x2="1953.60" y2="404.32" stroke="#505153" stroke-width="2.00" />
<rect x="1965.75" y="404.95" width="83.10" height="22.30" fill="#625f60" stroke="#231f20" stroke-width="1.90" />
<rect x="1965.75" y="375.25" width="56.10" height="22.30" fill="#9e9e9f" stroke="#231f20" stroke-width="1.90" />
<rect x="1965.75" y="345.55" width="113.10" height="22.30" fill="#433f40" stroke="#231f20" stroke-width="1.90" />
<rect x="1965.75" y="315.85" width="29.90" height="22.30" fill="#c0bfc0" stroke="#231f20" stroke-width="1.90" />
<rect x="1965.75" y="286.15" width="10.30" height="22.30" fill="#dcdcdd" stroke="#231f20" stroke-width="1.90" />
<rect x="1965.75" y="256.45" width="124.00" height="22.30" fill="#231f20" stroke="#231f20" stroke-width="1.90" />
<rect x="1965.75" y="226.75" width="56.70" height="22.30" fill="#858283" stroke="#231f20" stroke-width="1.90" />
<line x1="1966.05" y1="196.30" x2="1966.05" y2="220.10" stroke="#231f20" stroke-width="2.50" />
<text x="1931.62" y="428.01" font-size="24.50" font-family="Liberation Sans, sans-serif" stroke-width="0.45" fill="#414042" stroke="#414042">0</text>
<text x="1931.87" y="397.64" font-size="24.50" font-family="Liberation Sans, sans-serif" stroke-width="0.45" fill="#414042" stroke="#414042">1</text>
<text x="1931.93" y="367.26" font-size="24.50" font-family="Liberation Sans, sans-serif" stroke-width="0.45" fill="#414042" stroke="#414042">2</text>
<text x="1931.74" y="336.89" font-size="24.50" font-family="Liberation Sans, sans-serif" stroke-width="0.45" fill="#414042" stroke="#414042">3</text>
<text x="1931.38" y="306.51" font-size="24.50" font-family="Liberation Sans, sans-serif" stroke-width="0.45" fill="#414042" stroke="#414042">4</text>
<text x="1931.68" y="276.14" font-size="24.50" font-family="Liberation Sans, sans-serif" stroke-width="0.45" fill="#414042" stroke="#414042">5</text>
<text x="1931.74" y="245.76" font-size="24.50" font-family="Liberation Sans, sans-serif" stroke-width="0.45" fill="#414042" stroke="#414042">6</text>
<text x="1931.93" y="215.39" font-size="24.50" font-family="Liberation Sans, sans-serif" stroke-width="0.45" fill="#414042" stroke="#414042">7</text>
<text transform="translate(1917.80 384.80) rotate(-90)" x="-0.72" y="0" font-size="27.00" font-family="Liberation Sans, sans-serif" stroke-width="0.45" fill="#414042" stroke="#414042" textLength="145.10" lengthAdjust="spacingAndGlyphs">spike counts</text>
<line x1="1963.00" y1="445.20" x2="2111.80" y2="445.20" stroke="#505153" stroke-width="2.40" />
<line x1="1964.10" y1="444.20" x2="1964.10" y2="451.80" stroke="#505153" stroke-width="2.20" />
<line x1="2037.40" y1="444.20" x2="2037.40" y2="451.80" stroke="#505153" stroke-width="2.20" />
<line x1="2110.70" y1="444.20" x2="2110.70" y2="451.80" stroke="#505153" stroke-width="2.20" />
<text x="1959.17" y="476.30" font-size="24.50" font-family="Liberation Sans, sans-serif" stroke-width="0.45" fill="#414042" stroke="#414042">0</text>
<text x="2022.67" y="476.30" font-size="24.50" font-family="Liberation Sans, sans-serif" stroke-width="0.45" fill="#414042" stroke="#414042">.1</text>
<text x="2096.23" y="476.30" font-size="24.50" font-family="Liberation Sans, sans-serif" stroke-width="0.45" fill="#414042" stroke="#414042">.2</text>
<text x="1992.44" y="502.20" font-size="27.00" font-family="Liberation Sans, sans-serif" stroke-width="0.45" fill="#414042" stroke="#414042" textLength="97.79" lengthAdjust="spacingAndGlyphs">recoded</text>
<text x="1977.27" y="530.30" font-size="27.00" font-family="Liberation Sans, sans-serif" stroke-width="0.45" fill="#414042" stroke="#414042" textLength="128.42" lengthAdjust="spacingAndGlyphs">probability</text>
<rect x="0.00" y="591.60" width="1047.70" height="46.10" fill="#55585b" />
<rect x="1087.90" y="591.60" width="1032.10" height="46.10" fill="#55585b" />
<text x="362.82" y="627.90" font-size="30.50" font-family="Liberation Sans, sans-serif" stroke-width="0.45" fill="#ffffff" stroke="#ffffff" textLength="263.50" lengthAdjust="spacingAndGlyphs">variance adaptation</text>
<text x="1505.20" y="627.90" font-size="30.50" font-family="Liberation Sans, sans-serif" stroke-width="0.45" fill="#ffffff" stroke="#ffffff" textLength="228.83" lengthAdjust="spacingAndGlyphs">mean adaptation</text>
<g>
<text x="200.01" y="701.00" font-size="31.00" font-family="Liberation Sans, sans-serif" stroke-width="0.45" fill="#414042" stroke="#414042" textLength="212.97" lengthAdjust="spacingAndGlyphs">before recoding</text>
<rect x="115.00" y="716.30" width="96.00" height="31.00" fill="#a7a9ac" />
<text x="155.18" y="741.20" font-size="27.50" font-family="Liberation Sans, sans-serif" stroke-width="0.45" fill="#3d3d3f" stroke="#3d3d3f">L</text>
<rect x="214.40" y="716.30" width="196.60" height="31.00" fill="#d1d3d4" />
<text x="301.07" y="741.20" font-size="27.50" font-family="Liberation Sans, sans-serif" stroke-width="0.45" fill="#3d3d3f" stroke="#3d3d3f">H</text>
<rect x="415.00" y="716.30" width="96.00" height="31.00" fill="#a7a9ac" />
<text x="454.78" y="741.20" font-size="27.50" font-family="Liberation Sans, sans-serif" stroke-width="0.45" fill="#3d3d3f" stroke="#3d3d3f">L</text>
<path d="M82.00 782.40 H90.60 V1111.00 H82.00" fill="none" stroke="#505153" stroke-width="2.7" stroke-linecap="round"/>
<line x1="82.00" y1="1064.06" x2="90.60" y2="1064.06" stroke="#505153" stroke-width="2.40" stroke-linecap="round"/>
<line x1="82.00" y1="1017.11" x2="90.60" y2="1017.11" stroke="#505153" stroke-width="2.40" stroke-linecap="round"/>
<line x1="82.00" y1="970.17" x2="90.60" y2="970.17" stroke="#505153" stroke-width="2.40" stroke-linecap="round"/>
<line x1="82.00" y1="923.23" x2="90.60" y2="923.23" stroke="#505153" stroke-width="2.40" stroke-linecap="round"/>
<line x1="82.00" y1="876.29" x2="90.60" y2="876.29" stroke="#505153" stroke-width="2.40" stroke-linecap="round"/>
<line x1="82.00" y1="829.34" x2="90.60" y2="829.34" stroke="#505153" stroke-width="2.40" stroke-linecap="round"/>
<text x="53.52" y="1116.48" font-size="30.50" font-family="Liberation Sans, sans-serif" stroke-width="0.45" fill="#414042" stroke="#414042">0</text>
<text x="53.82" y="1072.14" font-size="30.50" font-family="Liberation Sans, sans-serif" stroke-width="0.45" fill="#414042" stroke="#414042">1</text>
<text x="53.90" y="1027.75" font-size="30.50" font-family="Liberation Sans, sans-serif" stroke-width="0.45" fill="#414042" stroke="#414042">2</text>
<text x="53.67" y="980.66" font-size="30.50" font-family="Liberation Sans, sans-serif" stroke-width="0.45" fill="#414042" stroke="#414042">3</text>
<text x="53.21" y="933.71" font-size="30.50" font-family="Liberation Sans, sans-serif" stroke-width="0.45" fill="#414042" stroke="#414042">4</text>
<text x="53.59" y="886.62" font-size="30.50" font-family="Liberation Sans, sans-serif" stroke-width="0.45" fill="#414042" stroke="#414042">5</text>
<text x="53.67" y="838.03" font-size="30.50" font-family="Liberation Sans, sans-serif" stroke-width="0.45" fill="#414042" stroke="#414042">6</text>
<text x="53.90" y="794.38" font-size="30.50" font-family="Liberation Sans, sans-serif" stroke-width="0.45" fill="#414042" stroke="#414042">7</text>
<text transform="translate(38.30 1017.40) rotate(-90)" x="-0.47" y="0" font-size="27.50" font-family="Liberation Sans, sans-serif" stroke-width="0.45" fill="#414042" stroke="#414042" textLength="129.42" lengthAdjust="spacingAndGlyphs">firing rate</text>
<line x1="111.20" y1="1123.00" x2="513.60" y2="1123.00" stroke="#505153" stroke-width="2.50" />
<line x1="112.40" y1="1122.00" x2="112.40" y2="1132.50" stroke="#505153" stroke-width="2.50" stroke-linecap="round"/>
<line x1="212.40" y1="1122.00" x2="212.40" y2="1132.50" stroke="#505153" stroke-width="2.50" stroke-linecap="round"/>
<line x1="312.40" y1="1122.00" x2="312.40" y2="1132.50" stroke="#505153" stroke-width="2.50" stroke-linecap="round"/>
<line x1="412.40" y1="1122.00" x2="412.40" y2="1132.50" stroke="#505153" stroke-width="2.50" stroke-linecap="round"/>
<line x1="512.40" y1="1122.00" x2="512.40" y2="1132.50" stroke="#505153" stroke-width="2.50" stroke-linecap="round"/>
<text x="104.32" y="1164.60" font-size="29.00" font-family="Liberation Sans, sans-serif" stroke-width="0.45" fill="#414042" stroke="#414042">0</text>
<text x="196.67" y="1164.60" font-size="29.00" font-family="Liberation Sans, sans-serif" stroke-width="0.45" fill="#414042" stroke="#414042">50</text>
<text x="286.28" y="1164.60" font-size="29.00" font-family="Liberation Sans, sans-serif" stroke-width="0.45" fill="#414042" stroke="#414042">100</text>
<text x="386.38" y="1164.60" font-size="29.00" font-family="Liberation Sans, sans-serif" stroke-width="0.45" fill="#414042" stroke="#414042">150</text>
<text x="478.64" y="1164.60" font-size="29.00" font-family="Liberation Sans, sans-serif" stroke-width="0.45" fill="#414042" stroke="#414042">200</text>
<text x="241.44" y="1203.00" font-size="29.50" font-family="Liberation Sans, sans-serif" stroke-width="0.45" fill="#414042" stroke="#414042" textLength="142.31" lengthAdjust="spacingAndGlyphs">time [smp]</text>
<path d="M113.20 946.98 L115.20 946.21 L117.20 945.73 L119.20 946.18 L121.20 946.29 L123.20 946.95 L125.20 946.76 L127.20 946.23 L129.20 946.68 L131.20 944.87 L133.20 946.32 L135.20 945.73 L137.20 947.20 L139.20 945.64 L141.20 946.46 L143.20 946.39 L145.20 946.10 L147.20 947.55 L149.20 947.22 L151.20 946.61 L153.20 946.55 L155.20 946.37 L157.20 945.41 L159.20 945.92 L161.20 945.38 L163.20 944.80 L165.20 945.65 L167.20 945.73 L169.20 945.24 L171.20 945.27 L173.20 944.96 L175.20 946.38 L177.20 946.79 L179.20 947.10 L181.20 947.76 L183.20 947.93 L185.20 947.50 L187.20 947.40 L189.20 946.58 L191.20 944.16 L193.20 944.88 L195.20 945.67 L197.20 946.38 L199.20 946.49 L201.20 947.94 L203.20 948.35 L205.20 948.54 L207.20 945.90 L209.20 946.97 L211.20 946.88 L213.20 946.44 L215.20 946.62 L217.20 945.92 L219.20 945.68 L221.20 947.32 L223.20 948.07 L225.20 947.57 L227.20 948.27 L229.20 948.96 L231.20 948.30 L233.20 948.71 L235.20 947.24 L237.20 946.18 L239.20 945.66 L241.20 945.25 L243.20 946.87 L245.20 947.51 L247.20 946.48 L249.20 948.11 L251.20 946.26 L253.20 948.51 L255.20 948.12 L257.20 946.55 L259.20 946.17 L261.20 946.35 L263.20 946.78 L265.20 946.41 L267.20 946.57 L269.20 946.44 L271.20 946.17 L273.20 946.22 L275.20 946.99 L277.20 947.71 L279.20 947.76 L281.20 946.92 L283.20 948.39 L285.20 948.66 L287.20 947.85 L289.20 946.27 L291.20 947.36 L293.20 947.64 L295.20 946.71 L297.20 947.51 L299.20 946.73 L301.20 946.87 L303.20 947.11 L305.20 945.77 L307.20 946.16 L309.20 947.44 L311.20 946.10 L313.20 945.87 L315.20 945.69 L317.20 946.73 L319.20 947.07 L321.20 948.35 L323.20 946.74 L325.20 946.76 L327.20 947.49 L329.20 946.13 L331.20 946.56 L333.20 946.42 L335.20 947.39 L337.20 945.77 L339.20 946.31 L341.20 946.53 L343.20 947.38 L345.20 947.44 L347.20 946.32 L349.20 947.05 L351.20 947.24 L353.20 947.48 L355.20 947.26 L357.20 947.16 L359.20 946.81 L361.20 946.78 L363.20 946.48 L365.20 946.73 L367.20 946.53 L369.20 944.98 L371.20 945.37 L373.20 945.42 L375.20 946.00 L377.20 944.80 L379.20 944.06 L381.20 944.50 L383.20 945.46 L385.20 945.67 L387.20 946.44 L389.20 946.17 L391.20 946.27 L393.20 945.62 L395.20 945.95 L397.20 946.42 L399.20 945.16 L401.20 944.46 L403.20 945.54 L405.20 945.79 L407.20 944.18 L409.20 946.31 L411.20 947.57 L413.20 948.06 L415.20 948.43 L417.20 949.28 L419.20 948.37 L421.20 949.51 L423.20 948.68 L425.20 948.83 L427.20 947.82 L429.20 947.68 L431.20 947.65 L433.20 946.22 L435.20 947.25 L437.20 946.31 L439.20 947.04 L441.20 946.09 L443.20 945.83 L445.20 945.75 L447.20 946.58 L449.20 946.95 L451.20 946.37 L453.20 947.08 L455.20 947.25 L457.20 947.26 L459.20 947.23 L461.20 947.06 L463.20 945.70 L465.20 945.77 L467.20 947.87 L469.20 947.88 L471.20 947.16 L473.20 946.14 L475.20 946.87 L477.20 945.97 L479.20 946.22 L481.20 946.44 L483.20 946.06 L485.20 947.77 L487.20 947.17 L489.20 947.01 L491.20 946.97 L493.20 946.57 L495.20 945.50 L497.20 946.03 L499.20 946.00 L501.20 946.46 L503.20 946.56 L505.20 946.31 L507.20 946.75 L509.20 945.10 L511.20 947.26 L513.20 946.00" fill="none" stroke="#3a1a4a" stroke-width="3.80" stroke-linejoin="round" stroke-linecap="round" />
<path d="M113.20 947.03 L115.20 945.52 L117.20 946.53 L119.20 946.44 L121.20 946.63 L123.20 946.36 L125.20 946.87 L127.20 946.79 L129.20 946.54 L131.20 946.08 L133.20 946.95 L135.20 946.71 L137.20 946.45 L139.20 946.23 L141.20 947.27 L143.20 946.21 L145.20 946.93 L147.20 946.96 L149.20 948.18 L151.20 946.67 L153.20 946.83 L155.20 946.50 L157.20 945.45 L159.20 946.19 L161.20 945.37 L163.20 946.16 L165.20 946.26 L167.20 946.62 L169.20 946.13 L171.20 945.73 L173.20 945.58 L175.20 945.57 L177.20 945.41 L179.20 947.27 L181.20 947.78 L183.20 948.26 L185.20 947.14 L187.20 947.48 L189.20 946.03 L191.20 945.41 L193.20 945.74 L195.20 945.86 L197.20 946.51 L199.20 947.54 L201.20 948.27 L203.20 948.36 L205.20 947.41 L207.20 948.05 L209.20 946.10 L211.20 946.23 L213.20 945.96 L215.20 947.51 L217.20 946.67 L219.20 945.92 L221.20 946.19 L223.20 947.16 L225.20 946.36 L227.20 946.37 L229.20 945.80 L231.20 945.52 L233.20 946.74 L235.20 946.25 L237.20 946.00 L239.20 945.33 L241.20 944.94 L243.20 946.51 L245.20 946.51 L247.20 947.03 L249.20 948.13 L251.20 946.41 L253.20 947.57 L255.20 948.16 L257.20 946.81 L259.20 945.44 L261.20 945.19 L263.20 947.04 L265.20 946.95 L267.20 947.13 L269.20 946.28 L271.20 945.81 L273.20 946.30 L275.20 947.02 L277.20 946.72 L279.20 947.93 L281.20 947.15 L283.20 948.18 L285.20 947.45 L287.20 948.09 L289.20 946.63 L291.20 947.14 L293.20 947.19 L295.20 948.07 L297.20 946.53 L299.20 947.32 L301.20 947.51 L303.20 946.75 L305.20 946.99 L307.20 946.12 L309.20 947.43 L311.20 945.75 L313.20 945.88 L315.20 947.04 L317.20 948.28 L319.20 948.18 L321.20 948.03 L323.20 946.64 L325.20 946.63 L327.20 947.98 L329.20 947.29 L331.20 945.87 L333.20 946.77 L335.20 945.78 L337.20 946.15 L339.20 947.06 L341.20 945.83 L343.20 946.54 L345.20 947.44 L347.20 946.49 L349.20 946.38 L351.20 946.58 L353.20 946.34 L355.20 947.50 L357.20 947.25 L359.20 947.85 L361.20 947.09 L363.20 946.72 L365.20 945.88 L367.20 946.86 L369.20 945.50 L371.20 945.64 L373.20 944.91 L375.20 946.46 L377.20 943.98 L379.20 943.69 L381.20 945.06 L383.20 945.49 L385.20 946.69 L387.20 946.20 L389.20 945.38 L391.20 947.30 L393.20 945.34 L395.20 946.23 L397.20 945.91 L399.20 945.08 L401.20 945.64 L403.20 945.14 L405.20 945.28 L407.20 944.78 L409.20 947.42 L411.20 946.96 L413.20 947.47 L415.20 948.22 L417.20 948.62 L419.20 947.62 L421.20 947.71 L423.20 948.38 L425.20 947.82 L427.20 946.76 L429.20 946.50 L431.20 947.39 L433.20 946.22 L435.20 946.86 L437.20 946.28 L439.20 945.80 L441.20 946.77 L443.20 946.18 L445.20 945.42 L447.20 946.11 L449.20 947.30 L451.20 946.71 L453.20 946.75 L455.20 948.00 L457.20 946.21 L459.20 946.50 L461.20 945.79 L463.20 945.56 L465.20 945.55 L467.20 947.11 L469.20 947.33 L471.20 946.91 L473.20 946.61 L475.20 946.52 L477.20 945.95 L479.20 945.73 L481.20 946.54 L483.20 946.79 L485.20 947.53 L487.20 946.83 L489.20 946.53 L491.20 947.14 L493.20 946.35 L495.20 945.34 L497.20 947.07 L499.20 946.91 L501.20 946.28 L503.20 946.89 L505.20 945.43 L507.20 946.01 L509.20 945.34 L511.20 946.45 L513.20 945.83" fill="none" stroke="#27727b" stroke-width="3.80" stroke-linejoin="round" stroke-linecap="round" />
<path d="M113.20 946.32 L115.20 945.77 L117.20 946.21 L119.20 946.53 L121.20 946.69 L123.20 946.92 L125.20 947.29 L127.20 946.45 L129.20 946.37 L131.20 945.59 L133.20 946.96 L135.20 945.39 L137.20 946.90 L139.20 945.82 L141.20 947.35 L143.20 946.55 L145.20 946.33 L147.20 946.91 L149.20 947.20 L151.20 946.83 L153.20 946.89 L155.20 945.88 L157.20 945.21 L159.20 945.82 L161.20 946.29 L163.20 945.92 L165.20 946.90 L167.20 947.44 L169.20 945.92 L171.20 945.42 L173.20 945.48 L175.20 945.70 L177.20 945.81 L179.20 948.18 L181.20 948.37 L183.20 947.33 L185.20 947.46 L187.20 948.07 L189.20 945.85 L191.20 945.54 L193.20 945.83 L195.20 945.90 L197.20 946.63 L199.20 946.79 L201.20 947.36 L203.20 948.20 L205.20 947.60 L207.20 947.59 L209.20 948.05 L211.20 947.05 L213.20 946.27 L215.20 946.98 L217.20 946.61 L219.20 946.50 L221.20 946.12 L223.20 946.47 L225.20 945.39 L227.20 946.96 L229.20 946.46 L231.20 945.73 L233.20 946.32 L235.20 945.86 L237.20 945.55 L239.20 945.25 L241.20 945.51 L243.20 947.12 L245.20 947.12 L247.20 946.64 L249.20 947.65 L251.20 947.25 L253.20 948.23 L255.20 947.84 L257.20 946.97 L259.20 946.44 L261.20 945.99 L263.20 946.73 L265.20 945.88 L267.20 946.85 L269.20 946.41 L271.20 945.80 L273.20 946.16 L275.20 946.95 L277.20 947.18 L279.20 947.74 L281.20 948.12 L283.20 947.57 L285.20 947.53 L287.20 948.99 L289.20 946.49 L291.20 946.66 L293.20 946.10 L295.20 946.77 L297.20 946.75 L299.20 946.21 L301.20 946.52 L303.20 945.89 L305.20 945.00 L307.20 945.67 L309.20 947.22 L311.20 946.33 L313.20 946.10 L315.20 946.81 L317.20 947.12 L319.20 947.87 L321.20 947.07 L323.20 946.71 L325.20 947.29 L327.20 948.00 L329.20 946.96 L331.20 947.56 L333.20 947.59 L335.20 946.50 L337.20 945.77 L339.20 946.37 L341.20 945.95 L343.20 946.74 L345.20 947.03 L347.20 946.62 L349.20 947.02 L351.20 947.24 L353.20 947.18 L355.20 946.81 L357.20 948.35 L359.20 947.80 L361.20 946.12 L363.20 946.14 L365.20 944.88 L367.20 944.96 L369.20 944.04 L371.20 944.06 L373.20 944.68 L375.20 945.69 L377.20 944.47 L379.20 944.90 L381.20 945.51 L383.20 945.24 L385.20 944.96 L387.20 946.31 L389.20 946.79 L391.20 946.11 L393.20 944.98 L395.20 946.81 L397.20 946.43 L399.20 945.32 L401.20 945.67 L403.20 945.54 L405.20 945.85 L407.20 944.71 L409.20 946.76 L411.20 946.84 L413.20 946.16 L415.20 945.87 L417.20 944.67 L419.20 942.70 L421.20 942.46 L423.20 943.10 L425.20 945.70 L427.20 946.31 L429.20 946.46 L431.20 946.81 L433.20 946.28 L435.20 946.35 L437.20 946.42 L439.20 946.59 L441.20 946.00 L443.20 946.10 L445.20 945.93 L447.20 946.48 L449.20 947.34 L451.20 946.62 L453.20 946.98 L455.20 947.30 L457.20 946.67 L459.20 947.88 L461.20 947.12 L463.20 946.27 L465.20 946.63 L467.20 946.62 L469.20 947.04 L471.20 946.70 L473.20 946.71 L475.20 947.15 L477.20 945.83 L479.20 945.89 L481.20 947.01 L483.20 946.28 L485.20 947.23 L487.20 946.71 L489.20 946.55 L491.20 946.68 L493.20 947.07 L495.20 946.06 L497.20 947.21 L499.20 947.49 L501.20 945.95 L503.20 946.72 L505.20 946.00 L507.20 945.65 L509.20 944.90 L511.20 946.46 L513.20 945.96" fill="none" stroke="#7cba5b" stroke-width="3.80" stroke-linejoin="round" stroke-linecap="round" />
<rect x="467.30" y="792.00" width="13.40" height="133.50" fill="#441a57" />
<rect x="487.70" y="792.00" width="13.10" height="133.50" fill="#2a7d8e" />
<rect x="507.80" y="792.00" width="13.10" height="133.50" fill="#81c253" />
<rect x="458.30" y="774.40" width="70.70" height="150.10" fill="none" stroke="#505153" stroke-width="2.00" />
<text x="439.35" y="784.60" font-size="25.50" font-family="Liberation Sans, sans-serif" stroke-width="0.45" fill="#414042" stroke="#414042">4</text>
<text x="439.60" y="927.60" font-size="25.50" font-family="Liberation Sans, sans-serif" stroke-width="0.45" fill="#414042" stroke="#414042">0</text>
<text transform="translate(452.50 896.00) rotate(-90)" x="-1.11" y="0" font-size="26.00" font-family="Liberation Sans, sans-serif" stroke-width="0.45" fill="#414042" stroke="#414042" textLength="101.24" lengthAdjust="spacingAndGlyphs">avg. rate</text>
<line x1="106.70" y1="804.20" x2="130.10" y2="804.20" stroke="#3a1a4a" stroke-width="3.00" />
<text x="137.32" y="809.73" font-size="27.15" font-family="Liberation Serif, serif" font-style="italic" fill="#4d4d4f" stroke="none" textLength="18.95" lengthAdjust="spacingAndGlyphs">α</text>
<text x="158.45" y="814.40" font-size="17.25" font-family="Liberation Serif, serif" fill="#4d4d4f" stroke="none" textLength="7.10" lengthAdjust="spacingAndGlyphs">I</text>
<text x="170.97" y="812.75" font-size="23.57" font-family="Liberation Sans, sans-serif" stroke-width="0.45" fill="#4d4d4f" stroke="#4d4d4f" textLength="17.61" lengthAdjust="spacingAndGlyphs">=</text>
<text x="193.92" y="812.90" font-size="27.00" font-family="Liberation Sans, sans-serif" stroke-width="0.45" fill="#4d4d4f" stroke="#4d4d4f">0</text>
<line x1="106.70" y1="832.40" x2="130.10" y2="832.40" stroke="#27727b" stroke-width="3.00" />
<text x="137.32" y="837.73" font-size="27.15" font-family="Liberation Serif, serif" font-style="italic" fill="#4d4d4f" stroke="none" textLength="18.95" lengthAdjust="spacingAndGlyphs">α</text>
<text x="158.45" y="842.40" font-size="17.25" font-family="Liberation Serif, serif" fill="#4d4d4f" stroke="none" textLength="7.10" lengthAdjust="spacingAndGlyphs">I</text>
<text x="170.97" y="840.75" font-size="23.57" font-family="Liberation Sans, sans-serif" stroke-width="0.45" fill="#4d4d4f" stroke="#4d4d4f" textLength="17.61" lengthAdjust="spacingAndGlyphs">=</text>
<text x="193.92" y="840.90" font-size="27.00" font-family="Liberation Sans, sans-serif" stroke-width="0.45" fill="#4d4d4f" stroke="#4d4d4f">0.2</text>
<line x1="106.70" y1="860.60" x2="130.10" y2="860.60" stroke="#7cba5b" stroke-width="3.00" />
<text x="137.32" y="865.73" font-size="27.15" font-family="Liberation Serif, serif" font-style="italic" fill="#4d4d4f" stroke="none" textLength="18.95" lengthAdjust="spacingAndGlyphs">α</text>
<text x="158.45" y="870.40" font-size="17.25" font-family="Liberation Serif, serif" fill="#4d4d4f" stroke="none" textLength="7.10" lengthAdjust="spacingAndGlyphs">I</text>
<text x="170.97" y="868.75" font-size="23.57" font-family="Liberation Sans, sans-serif" stroke-width="0.45" fill="#4d4d4f" stroke="#4d4d4f" textLength="17.61" lengthAdjust="spacingAndGlyphs">=</text>
<text x="192.97" y="868.90" font-size="27.00" font-family="Liberation Sans, sans-serif" stroke-width="0.45" fill="#4d4d4f" stroke="#4d4d4f">1</text>
</g>
<text x="713.19" y="701.00" font-size="31.00" font-family="Liberation Sans, sans-serif" stroke-width="0.45" fill="#414042" stroke="#414042" textLength="188.33" lengthAdjust="spacingAndGlyphs">after recoding</text>
<rect x="615.00" y="716.30" width="96.40" height="31.00" fill="#a7a9ac" />
<text x="658.58" y="741.20" font-size="27.50" font-family="Liberation Sans, sans-serif" stroke-width="0.45" fill="#3d3d3f" stroke="#3d3d3f">L</text>
<rect x="715.20" y="716.30" width="196.20" height="31.00" fill="#d1d3d4" />
<text x="804.77" y="741.20" font-size="27.50" font-family="Liberation Sans, sans-serif" stroke-width="0.45" fill="#3d3d3f" stroke="#3d3d3f">H</text>
<rect x="915.40" y="716.30" width="95.60" height="31.00" fill="#a7a9ac" />
<text x="958.48" y="741.20" font-size="27.50" font-family="Liberation Sans, sans-serif" stroke-width="0.45" fill="#3d3d3f" stroke="#3d3d3f">L</text>
<path d="M582.40 782.20 H590.20 V1111.00 H582.40" fill="none" stroke="#505153" stroke-width="2.7" stroke-linecap="round"/>
<line x1="582.40" y1="1064.03" x2="590.20" y2="1064.03" stroke="#505153" stroke-width="2.40" stroke-linecap="round"/>
<line x1="582.40" y1="1017.06" x2="590.20" y2="1017.06" stroke="#505153" stroke-width="2.40" stroke-linecap="round"/>
<line x1="582.40" y1="970.09" x2="590.20" y2="970.09" stroke="#505153" stroke-width="2.40" stroke-linecap="round"/>
<line x1="582.40" y1="923.11" x2="590.20" y2="923.11" stroke="#505153" stroke-width="2.40" stroke-linecap="round"/>
<line x1="582.40" y1="876.14" x2="590.20" y2="876.14" stroke="#505153" stroke-width="2.40" stroke-linecap="round"/>
<line x1="582.40" y1="829.17" x2="590.20" y2="829.17" stroke="#505153" stroke-width="2.40" stroke-linecap="round"/>
<line x1="614.80" y1="1122.90" x2="1017.60" y2="1122.90" stroke="#505153" stroke-width="2.50" />
<line x1="616.00" y1="1121.90" x2="616.00" y2="1132.40" stroke="#505153" stroke-width="2.50" stroke-linecap="round"/>
<line x1="716.10" y1="1121.90" x2="716.10" y2="1132.40" stroke="#505153" stroke-width="2.50" stroke-linecap="round"/>
<line x1="816.20" y1="1121.90" x2="816.20" y2="1132.40" stroke="#505153" stroke-width="2.50" stroke-linecap="round"/>
<line x1="916.30" y1="1121.90" x2="916.30" y2="1132.40" stroke="#505153" stroke-width="2.50" stroke-linecap="round"/>
<line x1="1016.40" y1="1121.90" x2="1016.40" y2="1132.40" stroke="#505153" stroke-width="2.50" stroke-linecap="round"/>
<text x="604.62" y="1164.60" font-size="29.00" font-family="Liberation Sans, sans-serif" stroke-width="0.45" fill="#414042" stroke="#414042">0</text>
<text x="696.67" y="1164.60" font-size="29.00" font-family="Liberation Sans, sans-serif" stroke-width="0.45" fill="#414042" stroke="#414042">50</text>
<text x="786.48" y="1164.60" font-size="29.00" font-family="Liberation Sans, sans-serif" stroke-width="0.45" fill="#414042" stroke="#414042">100</text>
<text x="886.48" y="1164.60" font-size="29.00" font-family="Liberation Sans, sans-serif" stroke-width="0.45" fill="#414042" stroke="#414042">150</text>
<text x="978.84" y="1164.60" font-size="29.00" font-family="Liberation Sans, sans-serif" stroke-width="0.45" fill="#414042" stroke="#414042">200</text>
<text x="742.44" y="1203.20" font-size="29.50" font-family="Liberation Sans, sans-serif" stroke-width="0.45" fill="#414042" stroke="#414042" textLength="141.90" lengthAdjust="spacingAndGlyphs">time [smp]</text>
<path d="M617.40 1001.51 L619.40 1002.24 L621.40 1003.06 L623.40 1003.70 L625.40 1000.90 L627.40 1003.67 L629.40 1003.31 L631.40 1001.64 L633.40 1001.32 L635.40 1002.92 L637.40 1002.21 L639.40 1002.68 L641.40 1003.29 L643.40 1002.25 L645.40 1002.70 L647.40 1002.96 L649.40 1003.31 L651.40 1004.05 L653.40 1004.00 L655.40 1002.77 L657.40 1002.36 L659.40 1004.57 L661.40 1003.10 L663.40 1002.92 L665.40 1001.63 L667.40 1003.22 L669.40 1001.90 L671.40 1002.17 L673.40 1001.43 L675.40 1002.12 L677.40 1002.61 L679.40 1001.29 L681.40 1001.81 L683.40 1002.50 L685.40 1001.49 L687.40 1001.50 L689.40 1001.86 L691.40 1001.37 L693.40 1003.08 L695.40 1001.72 L697.40 1003.21 L699.40 1003.34 L701.40 1001.55 L703.40 1002.60 L705.40 1002.16 L707.40 1001.60 L709.40 1002.28 L711.40 1002.36 L713.40 1003.16 L715.40 1003.43 L716.80 1002.56 L718.20 894.12 L719.40 896.95 L721.40 901.49 L723.10 904.81 L725.40 912.55 L727.40 919.19 L729.40 925.97 L730.60 929.80 L733.40 942.35 L735.40 951.31 L737.20 959.37 L739.40 964.39 L741.40 968.60 L743.80 974.59 L745.40 976.24 L747.40 979.69 L748.80 981.76 L751.40 983.55 L753.40 985.54 L755.40 987.41 L757.40 989.32 L758.70 990.79 L761.40 991.94 L763.40 992.11 L765.30 993.97 L767.40 994.94 L769.40 994.93 L771.40 994.25 L773.40 994.66 L775.40 994.90 L777.40 995.31 L779.40 995.60 L781.40 993.89 L783.40 993.94 L785.40 995.43 L787.40 995.51 L789.40 995.50 L791.40 992.20 L793.40 994.01 L795.40 991.44 L797.40 994.83 L799.40 994.27 L801.40 994.27 L803.40 994.11 L805.40 995.34 L807.40 994.00 L809.40 995.13 L811.40 994.73 L813.40 994.57 L815.40 994.66 L817.40 994.37 L819.40 993.35 L821.40 994.90 L823.40 994.90 L825.40 994.18 L827.40 994.93 L829.40 995.08 L831.40 993.23 L833.40 994.21 L835.40 993.96 L837.40 993.57 L839.40 994.62 L841.40 993.63 L843.40 993.99 L845.40 994.57 L847.40 994.67 L849.40 994.65 L851.40 996.28 L853.40 993.96 L855.40 994.61 L857.40 993.38 L859.40 994.82 L861.40 995.39 L863.40 995.45 L865.40 993.89 L867.40 994.20 L869.40 995.51 L871.40 994.37 L873.40 995.27 L875.40 993.63 L877.40 995.64 L879.40 995.34 L881.40 994.87 L883.40 993.80 L885.40 994.35 L887.40 994.62 L889.40 994.73 L891.40 994.42 L893.40 994.33 L895.40 994.68 L897.40 995.71 L899.40 992.83 L901.40 993.37 L903.40 993.23 L905.40 993.97 L907.40 993.08 L909.40 995.03 L911.40 994.65 L913.40 994.36 L915.00 994.58 L917.50 1049.97 L919.70 1071.57 L921.40 1069.07 L923.00 1066.28 L925.40 1059.38 L927.00 1054.67 L929.40 1047.09 L932.20 1038.24 L933.40 1034.72 L935.40 1029.17 L938.00 1021.96 L939.40 1019.11 L941.40 1017.96 L943.40 1013.68 L945.50 1012.63 L947.40 1010.69 L949.40 1009.25 L952.00 1008.03 L953.40 1008.91 L955.40 1007.20 L957.40 1004.18 L960.00 1005.83 L961.40 1004.92 L963.40 1003.17 L965.40 1004.85 L967.40 1003.00 L969.40 1003.88 L971.40 1003.67 L973.40 1002.70 L975.00 1003.57 L977.40 1002.19 L979.40 1003.24 L981.40 1002.64 L983.40 1002.97 L985.40 1004.78 L987.40 1003.26 L989.40 1002.27 L991.40 1003.12 L993.40 1002.59 L995.40 1003.28 L997.40 1003.42 L999.40 1003.38 L1001.40 1003.40 L1003.40 1002.89 L1005.40 1003.75 L1007.40 1004.29 L1009.40 1002.89 L1011.40 1003.39 L1013.40 1003.51 L1015.40 1004.54" fill="none" stroke="#3a1a4a" stroke-width="3.80" stroke-linejoin="round" stroke-linecap="round" />
<path d="M617.40 1037.28 L619.40 1035.74 L621.40 1036.42 L623.40 1035.09 L625.40 1035.54 L627.40 1036.37 L629.40 1036.90 L631.40 1037.17 L633.40 1036.10 L635.40 1035.21 L637.40 1036.70 L639.40 1036.21 L641.40 1036.72 L643.40 1036.50 L645.40 1036.97 L647.40 1036.92 L649.40 1037.08 L651.40 1035.97 L653.40 1037.21 L655.40 1035.93 L657.40 1036.43 L659.40 1037.94 L661.40 1036.66 L663.40 1035.37 L665.40 1037.63 L667.40 1037.21 L669.40 1037.33 L671.40 1036.53 L673.40 1036.65 L675.40 1036.16 L677.40 1035.77 L679.40 1037.66 L681.40 1036.05 L683.40 1035.95 L685.40 1035.98 L687.40 1037.94 L689.40 1037.11 L691.40 1036.05 L693.40 1036.32 L695.40 1036.79 L697.40 1037.11 L699.40 1034.99 L701.40 1037.13 L703.40 1036.18 L705.40 1035.78 L707.40 1036.03 L709.40 1037.03 L711.40 1037.86 L713.40 1036.49 L715.40 1036.83 L716.50 1036.36 L719.80 926.51 L721.40 931.15 L723.40 936.70 L725.60 942.93 L727.40 948.36 L729.40 954.30 L732.20 962.66 L733.40 966.37 L735.40 972.20 L737.20 977.56 L739.40 979.90 L741.40 982.34 L743.80 983.44 L745.40 985.70 L747.40 985.85 L749.40 987.27 L751.40 987.99 L753.70 988.28 L755.40 988.42 L757.40 986.53 L759.40 986.86 L761.40 987.16 L763.40 987.71 L765.40 988.80 L767.40 986.49 L769.40 987.74 L771.40 986.89 L773.40 986.69 L775.40 989.27 L777.40 988.09 L779.40 989.40 L781.40 989.02 L783.40 987.23 L785.40 986.43 L787.40 989.77 L789.40 987.67 L791.40 987.04 L793.40 988.60 L795.40 988.13 L797.40 987.44 L799.40 987.72 L801.40 988.15 L803.40 988.07 L805.40 988.65 L807.40 987.71 L809.40 987.72 L811.40 988.52 L813.40 988.28 L815.40 988.94 L817.40 987.80 L819.40 987.93 L821.40 987.03 L823.40 989.28 L825.40 986.83 L827.40 988.18 L829.40 987.25 L831.40 988.30 L833.40 988.64 L835.40 986.62 L837.40 987.83 L839.40 986.52 L841.40 989.20 L843.40 987.63 L845.40 986.67 L847.40 987.41 L849.40 989.12 L851.40 989.27 L853.40 989.09 L855.40 987.34 L857.40 987.88 L859.40 989.40 L861.40 987.39 L863.40 987.73 L865.40 987.20 L867.40 987.02 L869.40 989.04 L871.40 988.55 L873.40 988.39 L875.40 988.50 L877.40 988.88 L879.40 989.29 L881.40 988.00 L883.40 987.72 L885.40 987.14 L887.40 988.93 L889.40 987.57 L891.40 986.74 L893.40 987.78 L895.40 988.03 L897.40 988.72 L899.40 988.86 L901.40 987.39 L903.40 987.33 L905.40 987.73 L907.40 986.98 L909.40 987.92 L911.40 988.40 L913.40 988.05 L915.00 988.01 L917.50 1054.67 L919.70 1071.57 L921.40 1068.28 L924.00 1064.28 L925.40 1060.95 L927.40 1056.05 L930.00 1049.67 L931.40 1048.45 L933.40 1045.53 L935.40 1043.55 L937.40 1041.35 L938.80 1039.18 L941.40 1038.31 L943.40 1037.33 L945.00 1035.85 L947.40 1036.65 L949.40 1036.26 L951.40 1035.24 L953.40 1036.49 L955.40 1036.52 L957.40 1036.24 L959.40 1034.99 L961.40 1037.38 L963.40 1037.29 L965.40 1037.25 L967.40 1036.96 L969.40 1035.61 L971.40 1036.76 L973.40 1035.86 L975.40 1038.49 L977.40 1036.18 L979.40 1037.17 L981.40 1035.28 L983.40 1035.58 L985.40 1036.11 L987.40 1037.15 L989.40 1037.01 L991.40 1036.77 L993.40 1034.94 L995.40 1037.46 L997.40 1035.70 L999.40 1037.85 L1001.40 1038.05 L1003.40 1037.15 L1005.40 1037.27 L1007.40 1035.35 L1009.40 1038.60 L1011.40 1036.58 L1013.40 1037.23 L1015.40 1035.64" fill="none" stroke="#27727b" stroke-width="3.80" stroke-linejoin="round" stroke-linecap="round" />
<path d="M617.40 1064.00 L619.40 1063.05 L621.40 1063.85 L623.40 1064.07 L625.40 1064.27 L627.40 1065.24 L629.40 1064.47 L631.40 1064.26 L633.40 1064.09 L635.40 1065.77 L637.40 1063.56 L639.40 1065.07 L641.40 1062.39 L643.40 1063.31 L645.40 1064.41 L647.40 1063.92 L649.40 1066.61 L651.40 1066.25 L653.40 1062.77 L655.40 1063.15 L657.40 1063.94 L659.40 1065.54 L661.40 1065.02 L663.40 1064.34 L665.40 1062.85 L667.40 1063.34 L669.40 1061.78 L671.40 1062.75 L673.40 1064.42 L675.40 1064.73 L677.40 1062.95 L679.40 1064.15 L681.40 1065.44 L683.40 1064.20 L685.40 1063.80 L687.40 1064.58 L689.40 1064.51 L691.40 1064.13 L693.40 1063.61 L695.40 1063.70 L697.40 1064.14 L699.40 1063.59 L701.40 1065.19 L703.40 1064.82 L705.40 1064.99 L707.40 1065.79 L709.40 1065.40 L711.40 1065.27 L713.40 1064.38 L715.40 1063.90 L717.00 1064.06 L718.50 974.87 L722.30 959.37 L723.40 959.07 L725.40 960.57 L727.40 961.39 L729.40 962.49 L732.20 962.49 L733.40 961.82 L735.40 964.17 L737.40 965.44 L739.40 965.54 L740.50 965.84 L743.40 966.62 L745.40 967.49 L747.40 966.39 L749.40 965.41 L751.40 966.27 L753.40 966.74 L755.40 965.53 L757.40 967.81 L760.00 966.72 L761.40 967.78 L763.40 967.51 L765.40 967.08 L767.40 968.72 L769.40 966.85 L771.40 966.75 L773.40 967.56 L775.40 968.02 L777.40 967.30 L779.40 966.46 L781.40 967.88 L783.40 967.80 L785.40 969.04 L787.40 967.09 L789.40 967.45 L791.40 966.78 L793.40 965.99 L795.40 967.31 L797.40 967.96 L799.40 966.38 L801.40 966.66 L803.40 966.23 L805.40 968.36 L807.40 966.67 L809.40 967.70 L811.40 966.47 L813.40 967.26 L815.40 966.66 L817.40 965.19 L819.40 967.24 L821.40 967.62 L823.40 965.39 L825.40 967.01 L827.40 966.78 L829.40 966.23 L831.40 966.93 L833.40 965.49 L835.40 967.34 L837.40 968.13 L839.40 966.04 L841.40 967.05 L843.40 968.31 L845.40 967.20 L847.40 966.65 L849.40 966.31 L851.40 967.23 L853.40 966.96 L855.40 967.60 L857.40 965.77 L859.40 967.97 L861.40 966.71 L863.40 967.59 L865.40 966.42 L867.40 965.93 L869.40 966.54 L871.40 966.21 L873.40 966.69 L875.40 967.56 L877.40 967.92 L879.40 967.17 L881.40 966.53 L883.40 966.60 L885.40 967.48 L887.40 967.93 L889.40 966.69 L891.40 966.85 L893.40 966.31 L895.40 967.12 L897.40 967.75 L899.40 964.47 L901.40 967.14 L903.40 966.45 L905.40 964.94 L907.40 967.18 L909.40 966.83 L911.40 967.21 L913.40 965.73 L915.20 966.89 L917.50 1017.11 L919.40 1033.25 L921.70 1052.79 L923.40 1051.76 L925.00 1050.45 L927.40 1047.90 L930.20 1042.88 L931.40 1046.43 L933.40 1046.73 L935.40 1048.75 L937.40 1050.74 L940.00 1051.88 L941.40 1053.65 L943.40 1055.51 L945.40 1056.60 L947.40 1058.52 L950.00 1059.24 L951.40 1060.02 L953.40 1060.93 L955.40 1062.90 L957.40 1066.30 L958.70 1064.27 L961.40 1063.98 L963.40 1064.08 L965.40 1065.00 L967.40 1064.80 L969.40 1063.26 L971.40 1065.12 L973.40 1064.27 L975.40 1065.02 L977.40 1062.67 L979.40 1063.08 L981.40 1064.93 L983.40 1062.93 L985.40 1064.82 L987.40 1064.81 L989.40 1064.67 L991.40 1064.88 L993.40 1064.84 L995.40 1065.03 L997.40 1064.34 L999.40 1064.69 L1001.40 1067.22 L1003.40 1065.74 L1005.40 1065.33 L1007.40 1065.17 L1009.40 1064.26 L1011.40 1065.10 L1013.40 1064.73 L1015.40 1065.77" fill="none" stroke="#7cba5b" stroke-width="3.80" stroke-linejoin="round" stroke-linecap="round" />
<rect x="966.40" y="834.00" width="13.40" height="91.80" fill="#441a57" />
<rect x="986.90" y="845.40" width="13.20" height="80.40" fill="#2a7d8e" />
<rect x="1007.20" y="848.00" width="13.60" height="77.80" fill="#81c253" />
<rect x="958.90" y="774.20" width="70.60" height="150.60" fill="none" stroke="#505153" stroke-width="2.00" />
<text x="939.25" y="784.60" font-size="25.50" font-family="Liberation Sans, sans-serif" stroke-width="0.45" fill="#414042" stroke="#414042">4</text>
<text x="939.50" y="927.60" font-size="25.50" font-family="Liberation Sans, sans-serif" stroke-width="0.45" fill="#414042" stroke="#414042">0</text>
<text transform="translate(953.50 896.00) rotate(-90)" x="-1.09" y="0" font-size="26.00" font-family="Liberation Sans, sans-serif" stroke-width="0.45" fill="#414042" stroke="#414042" textLength="100.22" lengthAdjust="spacingAndGlyphs">avg. rate</text>
<text x="1286.12" y="701.00" font-size="31.00" font-family="Liberation Sans, sans-serif" stroke-width="0.45" fill="#414042" stroke="#414042" textLength="212.15" lengthAdjust="spacingAndGlyphs">before recoding</text>
<rect x="1193.10" y="716.30" width="96.10" height="31.00" fill="#a7a9ac" />
<text x="1233.43" y="741.20" font-size="27.50" font-family="Liberation Sans, sans-serif" stroke-width="0.45" fill="#3d3d3f" stroke="#3d3d3f">L</text>
<rect x="1293.40" y="716.30" width="196.00" height="31.00" fill="#d1d3d4" />
<text x="1379.37" y="741.20" font-size="27.50" font-family="Liberation Sans, sans-serif" stroke-width="0.45" fill="#3d3d3f" stroke="#3d3d3f">H</text>
<rect x="1493.30" y="716.30" width="95.60" height="31.00" fill="#a7a9ac" />
<text x="1533.18" y="741.20" font-size="27.50" font-family="Liberation Sans, sans-serif" stroke-width="0.45" fill="#3d3d3f" stroke="#3d3d3f">L</text>
<path d="M1159.60 783.00 H1168.80 V1111.20 H1159.60" fill="none" stroke="#505153" stroke-width="2.7" stroke-linecap="round"/>
<line x1="1159.60" y1="1064.31" x2="1168.80" y2="1064.31" stroke="#505153" stroke-width="2.40" stroke-linecap="round"/>
<line x1="1159.60" y1="1017.43" x2="1168.80" y2="1017.43" stroke="#505153" stroke-width="2.40" stroke-linecap="round"/>
<line x1="1159.60" y1="970.54" x2="1168.80" y2="970.54" stroke="#505153" stroke-width="2.40" stroke-linecap="round"/>
<line x1="1159.60" y1="923.66" x2="1168.80" y2="923.66" stroke="#505153" stroke-width="2.40" stroke-linecap="round"/>
<line x1="1159.60" y1="876.77" x2="1168.80" y2="876.77" stroke="#505153" stroke-width="2.40" stroke-linecap="round"/>
<line x1="1159.60" y1="829.89" x2="1168.80" y2="829.89" stroke="#505153" stroke-width="2.40" stroke-linecap="round"/>
<text x="1135.52" y="1122.54" font-size="33.00" font-family="Liberation Sans, sans-serif" stroke-width="0.45" fill="#414042" stroke="#414042">0</text>
<text x="1135.85" y="1075.66" font-size="33.00" font-family="Liberation Sans, sans-serif" stroke-width="0.45" fill="#414042" stroke="#414042">1</text>
<text x="1135.93" y="1028.94" font-size="33.00" font-family="Liberation Sans, sans-serif" stroke-width="0.45" fill="#414042" stroke="#414042">2</text>
<text x="1135.69" y="981.89" font-size="33.00" font-family="Liberation Sans, sans-serif" stroke-width="0.45" fill="#414042" stroke="#414042">3</text>
<text x="1135.19" y="935.00" font-size="33.00" font-family="Liberation Sans, sans-serif" stroke-width="0.45" fill="#414042" stroke="#414042">4</text>
<text x="1135.61" y="887.95" font-size="33.00" font-family="Liberation Sans, sans-serif" stroke-width="0.45" fill="#414042" stroke="#414042">5</text>
<text x="1135.69" y="841.23" font-size="33.00" font-family="Liberation Sans, sans-serif" stroke-width="0.45" fill="#414042" stroke="#414042">6</text>
<text x="1135.93" y="797.84" font-size="33.00" font-family="Liberation Sans, sans-serif" stroke-width="0.45" fill="#414042" stroke="#414042">7</text>
<text transform="translate(1119.40 1016.00) rotate(-90)" x="-0.51" y="0" font-size="30.50" font-family="Liberation Sans, sans-serif" stroke-width="0.45" fill="#414042" stroke="#414042" textLength="142.50" lengthAdjust="spacingAndGlyphs">firing rate</text>
<line x1="1189.80" y1="1122.60" x2="1592.50" y2="1122.60" stroke="#505153" stroke-width="2.50" />
<line x1="1191.00" y1="1121.60" x2="1191.00" y2="1132.10" stroke="#505153" stroke-width="2.50" stroke-linecap="round"/>
<line x1="1291.08" y1="1121.60" x2="1291.08" y2="1132.10" stroke="#505153" stroke-width="2.50" stroke-linecap="round"/>
<line x1="1391.15" y1="1121.60" x2="1391.15" y2="1132.10" stroke="#505153" stroke-width="2.50" stroke-linecap="round"/>
<line x1="1491.22" y1="1121.60" x2="1491.22" y2="1132.10" stroke="#505153" stroke-width="2.50" stroke-linecap="round"/>
<line x1="1591.30" y1="1121.60" x2="1591.30" y2="1132.10" stroke="#505153" stroke-width="2.50" stroke-linecap="round"/>
<text x="1182.52" y="1164.60" font-size="29.00" font-family="Liberation Sans, sans-serif" stroke-width="0.45" fill="#414042" stroke="#414042">0</text>
<text x="1274.67" y="1164.60" font-size="29.00" font-family="Liberation Sans, sans-serif" stroke-width="0.45" fill="#414042" stroke="#414042">50</text>
<text x="1364.78" y="1164.60" font-size="29.00" font-family="Liberation Sans, sans-serif" stroke-width="0.45" fill="#414042" stroke="#414042">100</text>
<text x="1464.78" y="1164.60" font-size="29.00" font-family="Liberation Sans, sans-serif" stroke-width="0.45" fill="#414042" stroke="#414042">150</text>
<text x="1556.64" y="1164.60" font-size="29.00" font-family="Liberation Sans, sans-serif" stroke-width="0.45" fill="#414042" stroke="#414042">200</text>
<text x="1320.34" y="1201.90" font-size="29.50" font-family="Liberation Sans, sans-serif" stroke-width="0.45" fill="#414042" stroke="#414042" textLength="141.80" lengthAdjust="spacingAndGlyphs">time [smp]</text>
<path d="M1193.30 951.95 L1195.30 950.72 L1197.30 952.25 L1199.30 953.32 L1201.30 954.82 L1203.30 953.60 L1205.30 951.89 L1207.30 952.54 L1209.30 951.92 L1211.30 952.57 L1213.30 951.96 L1215.30 951.33 L1217.30 953.10 L1219.30 952.89 L1221.30 952.58 L1223.30 953.02 L1225.30 954.45 L1227.30 952.83 L1229.30 952.40 L1231.30 953.46 L1233.30 951.33 L1235.30 953.37 L1237.30 952.07 L1239.30 952.03 L1241.30 952.82 L1243.30 954.15 L1245.30 952.09 L1247.30 953.54 L1249.30 953.05 L1251.30 951.54 L1253.30 953.51 L1255.30 952.02 L1257.30 951.48 L1259.30 952.05 L1261.30 952.11 L1263.30 953.23 L1265.30 952.10 L1267.30 954.00 L1269.30 952.91 L1271.30 952.12 L1273.30 952.02 L1275.30 952.92 L1277.30 951.00 L1279.30 950.88 L1281.30 951.97 L1283.30 953.26 L1285.30 952.88 L1287.30 952.74 L1290.00 952.73 L1292.00 783.00 L1293.30 782.72 L1295.30 781.49 L1297.30 783.71 L1298.80 783.00 L1301.90 799.88 L1303.40 851.92 L1305.00 906.78 L1306.50 931.16 L1309.30 937.06 L1311.00 940.22 L1313.00 940.43 L1315.30 941.76 L1317.30 942.70 L1319.30 942.33 L1321.30 941.29 L1323.30 941.99 L1325.30 941.10 L1327.30 941.80 L1329.30 940.96 L1331.30 941.59 L1333.30 943.18 L1335.30 942.13 L1337.30 942.75 L1339.30 940.82 L1341.30 940.89 L1343.30 941.44 L1345.30 941.95 L1347.30 941.30 L1349.30 942.34 L1351.30 941.01 L1353.30 942.63 L1355.30 942.30 L1357.30 940.53 L1359.30 941.97 L1361.30 941.28 L1363.30 942.34 L1365.30 941.02 L1367.30 941.74 L1369.30 941.94 L1371.30 939.13 L1373.30 939.88 L1375.30 941.58 L1377.30 941.37 L1379.30 942.34 L1381.30 941.67 L1383.30 940.39 L1385.30 941.75 L1387.30 940.84 L1389.30 941.28 L1391.30 941.04 L1393.30 941.77 L1395.30 940.27 L1397.30 940.52 L1399.30 939.58 L1401.30 943.30 L1403.30 940.62 L1405.30 940.74 L1407.30 940.49 L1409.30 940.93 L1411.30 941.10 L1413.30 942.00 L1415.30 941.62 L1417.30 941.75 L1419.30 940.97 L1421.30 941.41 L1423.30 942.51 L1425.30 941.45 L1427.30 941.73 L1429.30 939.75 L1431.30 941.91 L1433.30 941.69 L1435.30 942.57 L1437.30 939.13 L1439.30 941.49 L1441.30 941.36 L1443.30 941.54 L1445.30 940.93 L1447.30 941.64 L1449.30 942.06 L1451.30 941.50 L1453.30 941.21 L1455.30 941.28 L1457.30 941.13 L1459.30 941.49 L1461.30 940.85 L1463.30 939.77 L1465.30 942.61 L1467.30 939.96 L1469.30 941.35 L1471.30 940.34 L1473.30 941.21 L1475.30 940.63 L1477.30 941.41 L1479.30 940.74 L1481.30 940.35 L1483.30 941.71 L1485.30 942.58 L1487.30 941.74 L1490.00 941.47 L1491.30 1019.62 L1492.80 1109.79 L1495.30 1110.14 L1497.30 1109.21 L1499.50 1109.79 L1501.30 1038.55 L1502.90 975.23 L1505.30 961.25 L1506.20 955.79 L1507.30 955.17 L1510.00 952.96 L1511.30 952.99 L1513.30 951.83 L1515.30 952.07 L1517.30 952.67 L1519.30 951.11 L1521.30 953.58 L1523.30 952.96 L1525.30 952.72 L1527.30 952.08 L1529.30 953.38 L1531.30 952.45 L1533.30 954.30 L1535.30 953.02 L1537.30 951.42 L1539.30 953.30 L1541.30 952.23 L1543.30 952.24 L1545.30 952.48 L1547.30 952.57 L1549.30 952.90 L1551.30 953.33 L1553.30 953.07 L1555.30 952.06 L1557.30 951.53 L1559.30 951.99 L1561.30 952.99 L1563.30 953.42 L1565.30 954.21 L1567.30 951.53 L1569.30 952.75 L1571.30 952.48 L1573.30 952.34 L1575.30 952.79 L1577.30 952.47 L1579.30 952.45 L1581.30 952.13 L1583.30 953.01 L1585.30 953.57 L1587.30 954.06 L1589.30 952.23 L1592.00 951.78" fill="none" stroke="#3a1a4a" stroke-width="3.80" stroke-linejoin="round" stroke-linecap="round" />
<path d="M1193.30 990.90 L1195.30 990.41 L1197.30 992.00 L1199.30 990.43 L1201.30 991.19 L1203.30 989.98 L1205.30 990.83 L1207.30 991.28 L1209.30 992.42 L1211.30 990.53 L1213.30 991.44 L1215.30 989.36 L1217.30 990.10 L1219.30 990.43 L1221.30 990.70 L1223.30 991.49 L1225.30 991.66 L1227.30 989.75 L1229.30 991.57 L1231.30 990.17 L1233.30 992.68 L1235.30 991.39 L1237.30 991.25 L1239.30 990.97 L1241.30 991.09 L1243.30 991.12 L1245.30 990.53 L1247.30 991.75 L1249.30 991.35 L1251.30 991.76 L1253.30 991.07 L1255.30 991.70 L1257.30 990.47 L1259.30 994.15 L1261.30 990.51 L1263.30 990.74 L1265.30 991.94 L1267.30 992.17 L1269.30 990.44 L1271.30 989.70 L1273.30 989.93 L1275.30 990.27 L1277.30 990.45 L1279.30 990.98 L1281.30 991.99 L1283.30 992.04 L1285.30 990.60 L1287.30 991.58 L1290.00 991.17 L1291.30 895.11 L1292.50 806.44 L1294.20 790.97 L1295.80 836.45 L1297.30 867.16 L1298.80 897.87 L1301.90 904.35 L1303.30 904.90 L1305.30 903.22 L1307.30 902.11 L1309.30 902.93 L1311.30 903.14 L1313.30 903.89 L1315.30 902.02 L1317.30 905.51 L1319.30 905.43 L1321.30 902.82 L1323.30 901.86 L1325.30 903.29 L1327.30 903.80 L1329.30 904.58 L1331.30 904.04 L1333.30 903.27 L1335.30 901.76 L1337.30 903.87 L1339.30 904.15 L1341.30 903.17 L1343.30 903.67 L1345.30 903.61 L1347.30 903.23 L1349.30 902.45 L1351.30 903.73 L1353.30 902.23 L1355.30 904.63 L1357.30 902.67 L1359.30 903.85 L1361.30 902.81 L1363.30 903.76 L1365.30 903.26 L1367.30 903.89 L1369.30 902.76 L1371.30 902.05 L1373.30 903.19 L1375.30 903.14 L1377.30 902.16 L1379.30 902.85 L1381.30 902.01 L1383.30 903.53 L1385.30 903.12 L1387.30 903.45 L1389.30 905.65 L1391.30 903.57 L1393.30 903.75 L1395.30 903.97 L1397.30 903.31 L1399.30 902.93 L1401.30 904.18 L1403.30 904.31 L1405.30 900.95 L1407.30 903.29 L1409.30 903.14 L1411.30 902.95 L1413.30 904.49 L1415.30 902.98 L1417.30 904.17 L1419.30 902.97 L1421.30 903.08 L1423.30 904.05 L1425.30 902.80 L1427.30 903.29 L1429.30 902.49 L1431.30 902.68 L1433.30 904.04 L1435.30 903.93 L1437.30 902.46 L1439.30 902.42 L1441.30 905.59 L1443.30 902.88 L1445.30 902.69 L1447.30 903.86 L1449.30 902.77 L1451.30 903.12 L1453.30 904.19 L1455.30 904.28 L1457.30 903.26 L1459.30 904.57 L1461.30 903.31 L1463.30 903.22 L1465.30 903.42 L1467.30 903.17 L1469.30 903.88 L1471.30 903.67 L1473.30 902.77 L1475.30 903.58 L1477.30 902.97 L1479.30 902.94 L1481.30 903.31 L1483.30 904.29 L1485.30 903.66 L1487.30 904.51 L1490.00 903.50 L1491.30 1013.97 L1492.40 1107.45 L1494.50 1107.45 L1497.30 996.33 L1500.00 992.05 L1501.30 992.92 L1503.30 990.46 L1505.30 992.36 L1507.30 992.48 L1509.30 993.65 L1511.30 991.73 L1513.30 991.55 L1515.30 990.29 L1517.30 990.92 L1519.30 990.64 L1521.30 990.72 L1523.30 990.81 L1525.30 990.28 L1527.30 991.50 L1529.30 991.91 L1531.30 992.23 L1533.30 991.50 L1535.30 992.48 L1537.30 992.49 L1539.30 990.29 L1541.30 991.35 L1543.30 990.52 L1545.30 990.75 L1547.30 991.74 L1549.30 991.48 L1551.30 992.83 L1553.30 993.32 L1555.30 991.94 L1557.30 991.42 L1559.30 991.46 L1561.30 991.58 L1563.30 992.07 L1565.30 990.96 L1567.30 992.08 L1569.30 991.38 L1571.30 992.49 L1573.30 992.75 L1575.30 993.07 L1577.30 991.46 L1579.30 990.44 L1581.30 990.16 L1583.30 991.34 L1585.30 990.39 L1587.30 990.19 L1589.30 991.29 L1592.00 990.76" fill="none" stroke="#27727b" stroke-width="3.80" stroke-linejoin="round" stroke-linecap="round" />
<path d="M1193.30 1000.62 L1195.30 1001.68 L1197.30 999.84 L1199.30 1000.30 L1201.30 998.70 L1203.30 1000.19 L1205.30 999.44 L1207.30 999.10 L1209.30 998.46 L1211.30 1001.40 L1213.30 998.67 L1215.30 999.01 L1217.30 1000.05 L1219.30 1000.29 L1221.30 1000.29 L1223.30 1000.13 L1225.30 999.28 L1227.30 1000.70 L1229.30 1000.21 L1231.30 998.81 L1233.30 1001.41 L1235.30 999.75 L1237.30 1000.85 L1239.30 998.81 L1241.30 999.03 L1243.30 999.56 L1245.30 999.46 L1247.30 1000.91 L1249.30 998.67 L1251.30 1000.19 L1253.30 999.19 L1255.30 1000.49 L1257.30 1000.23 L1259.30 999.58 L1261.30 1001.94 L1263.30 1000.01 L1265.30 1000.98 L1267.30 998.92 L1269.30 999.95 L1271.30 1000.13 L1273.30 1000.17 L1275.30 999.76 L1277.30 999.35 L1279.30 997.42 L1281.30 999.57 L1283.30 999.27 L1285.30 999.84 L1287.30 1000.79 L1289.30 1001.94 L1290.30 1000.08 L1291.30 921.35 L1292.70 811.13 L1294.50 848.64 L1297.30 893.18 L1299.30 892.94 L1301.30 892.90 L1303.30 893.46 L1305.30 894.71 L1307.30 893.85 L1309.30 894.56 L1311.30 892.10 L1313.30 893.43 L1315.30 893.55 L1317.30 893.66 L1319.30 892.06 L1321.30 891.66 L1323.30 891.43 L1325.30 892.90 L1327.30 895.24 L1329.30 893.44 L1331.30 892.23 L1333.30 893.55 L1335.30 893.01 L1337.30 893.42 L1339.30 892.89 L1341.30 892.18 L1343.30 892.84 L1345.30 893.90 L1347.30 893.56 L1349.30 894.34 L1351.30 892.40 L1353.30 894.21 L1355.30 893.38 L1357.30 893.49 L1359.30 894.40 L1361.30 893.23 L1363.30 893.57 L1365.30 893.90 L1367.30 893.91 L1369.30 894.06 L1371.30 894.47 L1373.30 893.83 L1375.30 893.02 L1377.30 895.48 L1379.30 893.38 L1381.30 893.73 L1383.30 892.78 L1385.30 891.57 L1387.30 892.77 L1389.30 893.49 L1391.30 893.89 L1393.30 893.47 L1395.30 894.12 L1397.30 894.30 L1399.30 894.30 L1401.30 893.47 L1403.30 893.54 L1405.30 893.29 L1407.30 892.74 L1409.30 894.70 L1411.30 892.44 L1413.30 893.44 L1415.30 893.69 L1417.30 891.69 L1419.30 894.14 L1421.30 893.22 L1423.30 893.71 L1425.30 893.25 L1427.30 892.23 L1429.30 893.70 L1431.30 893.63 L1433.30 894.39 L1435.30 893.95 L1437.30 892.13 L1439.30 894.50 L1441.30 894.24 L1443.30 894.22 L1445.30 893.99 L1447.30 892.98 L1449.30 894.04 L1451.30 893.28 L1453.30 896.04 L1455.30 893.40 L1457.30 892.66 L1459.30 893.32 L1461.30 894.84 L1463.30 893.14 L1465.30 891.55 L1467.30 894.88 L1469.30 893.91 L1471.30 893.22 L1473.30 894.25 L1475.30 892.87 L1477.30 892.66 L1479.30 894.47 L1481.30 893.23 L1483.30 894.12 L1485.30 893.68 L1487.30 894.39 L1489.30 893.78 L1490.60 893.65 L1491.70 1017.43 L1492.50 1083.07 L1494.00 1078.38 L1495.30 1036.82 L1496.20 1008.05 L1498.00 1000.46 L1499.30 998.84 L1501.30 1000.31 L1503.30 1001.02 L1505.30 1000.29 L1507.30 1000.19 L1509.30 1001.84 L1511.30 1000.46 L1513.30 1001.48 L1515.30 1000.71 L1517.30 999.36 L1519.30 999.79 L1521.30 1000.32 L1523.30 1000.85 L1525.30 999.90 L1527.30 999.38 L1529.30 999.72 L1531.30 1000.14 L1533.30 999.83 L1535.30 1000.09 L1537.30 1002.17 L1539.30 1000.82 L1541.30 999.89 L1543.30 1000.57 L1545.30 1001.92 L1547.30 1001.13 L1549.30 1000.50 L1551.30 999.43 L1553.30 999.14 L1555.30 1000.29 L1557.30 1000.49 L1559.30 999.20 L1561.30 999.44 L1563.30 1000.54 L1565.30 998.69 L1567.30 999.11 L1569.30 1000.54 L1571.30 1001.06 L1573.30 1000.85 L1575.30 1001.43 L1577.30 1001.92 L1579.30 1001.34 L1581.30 1000.35 L1583.30 1002.39 L1585.30 1002.01 L1587.30 1001.38 L1589.30 999.89 L1592.00 1000.93" fill="none" stroke="#7cba5b" stroke-width="3.80" stroke-linejoin="round" stroke-linecap="round" />
<rect x="1548.40" y="792.30" width="13.20" height="133.30" fill="#441a57" />
<rect x="1568.80" y="792.30" width="13.20" height="133.30" fill="#2a7d8e" />
<rect x="1588.90" y="792.30" width="13.20" height="133.30" fill="#81c253" />
<rect x="1540.10" y="773.90" width="70.90" height="150.70" fill="none" stroke="#505153" stroke-width="2.00" />
<text x="1516.85" y="784.60" font-size="25.50" font-family="Liberation Sans, sans-serif" stroke-width="0.45" fill="#414042" stroke="#414042">4</text>
<text x="1517.10" y="927.60" font-size="25.50" font-family="Liberation Sans, sans-serif" stroke-width="0.45" fill="#414042" stroke="#414042">0</text>
<text transform="translate(1529.00 896.00) rotate(-90)" x="-1.09" y="0" font-size="26.00" font-family="Liberation Sans, sans-serif" stroke-width="0.45" fill="#414042" stroke="#414042" textLength="100.22" lengthAdjust="spacingAndGlyphs">avg. rate</text>
<text x="1795.09" y="701.00" font-size="31.00" font-family="Liberation Sans, sans-serif" stroke-width="0.45" fill="#414042" stroke="#414042" textLength="188.13" lengthAdjust="spacingAndGlyphs">after recoding</text>
<rect x="1690.00" y="716.30" width="95.80" height="31.00" fill="#a7a9ac" />
<text x="1733.58" y="741.20" font-size="27.50" font-family="Liberation Sans, sans-serif" stroke-width="0.45" fill="#3d3d3f" stroke="#3d3d3f">L</text>
<rect x="1790.30" y="716.30" width="195.50" height="31.00" fill="#d1d3d4" />
<text x="1879.82" y="741.20" font-size="27.50" font-family="Liberation Sans, sans-serif" stroke-width="0.45" fill="#3d3d3f" stroke="#3d3d3f">H</text>
<rect x="1990.00" y="716.30" width="96.10" height="31.00" fill="#a7a9ac" />
<text x="2032.73" y="741.20" font-size="27.50" font-family="Liberation Sans, sans-serif" stroke-width="0.45" fill="#3d3d3f" stroke="#3d3d3f">L</text>
<path d="M1660.80 782.50 H1669.00 V1111.70 H1660.80" fill="none" stroke="#505153" stroke-width="2.7" stroke-linecap="round"/>
<line x1="1660.80" y1="1064.67" x2="1669.00" y2="1064.67" stroke="#505153" stroke-width="2.40" stroke-linecap="round"/>
<line x1="1660.80" y1="1017.64" x2="1669.00" y2="1017.64" stroke="#505153" stroke-width="2.40" stroke-linecap="round"/>
<line x1="1660.80" y1="970.61" x2="1669.00" y2="970.61" stroke="#505153" stroke-width="2.40" stroke-linecap="round"/>
<line x1="1660.80" y1="923.59" x2="1669.00" y2="923.59" stroke="#505153" stroke-width="2.40" stroke-linecap="round"/>
<line x1="1660.80" y1="876.56" x2="1669.00" y2="876.56" stroke="#505153" stroke-width="2.40" stroke-linecap="round"/>
<line x1="1660.80" y1="829.53" x2="1669.00" y2="829.53" stroke="#505153" stroke-width="2.40" stroke-linecap="round"/>
<line x1="1686.30" y1="1122.60" x2="2088.80" y2="1122.60" stroke="#505153" stroke-width="2.50" />
<line x1="1687.50" y1="1121.60" x2="1687.50" y2="1132.10" stroke="#505153" stroke-width="2.50" stroke-linecap="round"/>
<line x1="1787.53" y1="1121.60" x2="1787.53" y2="1132.10" stroke="#505153" stroke-width="2.50" stroke-linecap="round"/>
<line x1="1887.55" y1="1121.60" x2="1887.55" y2="1132.10" stroke="#505153" stroke-width="2.50" stroke-linecap="round"/>
<line x1="1987.57" y1="1121.60" x2="1987.57" y2="1132.10" stroke="#505153" stroke-width="2.50" stroke-linecap="round"/>
<line x1="2087.60" y1="1121.60" x2="2087.60" y2="1132.10" stroke="#505153" stroke-width="2.50" stroke-linecap="round"/>
<text x="1679.02" y="1164.60" font-size="29.00" font-family="Liberation Sans, sans-serif" stroke-width="0.45" fill="#414042" stroke="#414042">0</text>
<text x="1771.67" y="1164.60" font-size="29.00" font-family="Liberation Sans, sans-serif" stroke-width="0.45" fill="#414042" stroke="#414042">50</text>
<text x="1861.28" y="1164.60" font-size="29.00" font-family="Liberation Sans, sans-serif" stroke-width="0.45" fill="#414042" stroke="#414042">100</text>
<text x="1961.68" y="1164.60" font-size="29.00" font-family="Liberation Sans, sans-serif" stroke-width="0.45" fill="#414042" stroke="#414042">150</text>
<text x="2053.44" y="1164.60" font-size="29.00" font-family="Liberation Sans, sans-serif" stroke-width="0.45" fill="#414042" stroke="#414042">200</text>
<text x="1817.24" y="1202.00" font-size="29.50" font-family="Liberation Sans, sans-serif" stroke-width="0.45" fill="#414042" stroke="#414042" textLength="140.68" lengthAdjust="spacingAndGlyphs">time [smp]</text>
<path d="M1688.70 1000.85 L1690.70 1002.35 L1692.70 1000.51 L1694.70 1002.27 L1696.70 1003.50 L1698.70 1002.65 L1700.70 1004.01 L1702.70 1002.63 L1704.70 1002.72 L1706.70 1002.38 L1708.70 1003.09 L1710.70 1002.61 L1712.70 1003.66 L1714.70 1004.01 L1716.70 1002.95 L1718.70 1001.68 L1720.70 1003.11 L1722.70 1003.79 L1724.70 1003.19 L1726.70 1002.89 L1728.70 1003.44 L1730.70 1003.76 L1732.70 1000.42 L1734.70 1003.93 L1736.70 1003.30 L1738.70 1003.05 L1740.70 1002.17 L1742.70 1002.84 L1744.70 1003.16 L1746.70 1001.38 L1748.70 1003.28 L1750.70 1002.70 L1752.70 1003.89 L1754.70 1003.22 L1756.70 1002.49 L1758.70 1002.69 L1760.70 1003.19 L1762.70 1002.77 L1764.70 1003.11 L1766.70 1002.04 L1768.70 1001.58 L1770.70 1002.16 L1772.70 1001.43 L1774.70 1001.98 L1776.70 1002.95 L1778.70 1001.26 L1780.70 1001.60 L1782.70 1003.27 L1784.70 1002.19 L1785.90 1002.59 L1787.30 786.26 L1789.50 820.12 L1790.30 814.94 L1792.70 808.50 L1795.20 801.78 L1797.30 859.16 L1798.80 918.88 L1800.30 972.50 L1802.70 986.79 L1804.80 999.30 L1807.00 1002.59 L1808.70 1004.45 L1810.70 1001.85 L1812.70 1002.93 L1814.70 1002.01 L1816.70 1001.56 L1818.70 1002.28 L1820.70 1003.52 L1822.70 1003.63 L1824.70 1001.90 L1826.70 1002.24 L1828.70 1001.89 L1830.70 1000.88 L1832.70 1003.16 L1834.70 1003.97 L1836.70 1003.92 L1838.70 1002.25 L1840.70 1003.78 L1842.70 1003.58 L1844.70 1002.36 L1846.70 1002.64 L1848.70 1002.34 L1850.70 1002.85 L1852.70 1004.19 L1854.70 1001.86 L1856.70 1001.64 L1858.70 1003.39 L1860.70 1002.70 L1862.70 1001.05 L1864.70 1001.79 L1866.70 1001.95 L1868.70 1002.14 L1870.70 1002.93 L1872.70 1003.50 L1874.70 1002.52 L1876.70 1002.78 L1878.70 1002.02 L1880.70 1003.52 L1882.70 1003.80 L1884.70 1002.43 L1886.70 1002.03 L1888.70 1004.42 L1890.70 1003.45 L1892.70 1001.90 L1894.70 1001.22 L1896.70 1002.41 L1898.70 1003.68 L1900.70 1002.20 L1902.70 1002.45 L1904.70 1002.24 L1906.70 1003.22 L1908.70 1003.85 L1910.70 1001.59 L1912.70 1002.42 L1914.70 1002.49 L1916.70 1002.13 L1918.70 1001.65 L1920.70 1003.36 L1922.70 1002.80 L1924.70 1003.28 L1926.70 1003.95 L1928.70 1002.35 L1930.70 1003.13 L1932.70 1002.32 L1934.70 1002.59 L1936.70 1002.95 L1938.70 1002.53 L1940.70 1001.38 L1942.70 1003.95 L1944.70 1002.80 L1946.70 1001.69 L1948.70 1000.79 L1950.70 1002.65 L1952.70 1003.22 L1954.70 1003.53 L1956.70 1003.62 L1958.70 1002.34 L1960.70 1003.22 L1962.70 1001.36 L1964.70 1002.80 L1966.70 1003.45 L1968.70 1002.15 L1970.70 1002.53 L1972.70 1002.76 L1974.70 1002.79 L1976.70 1003.94 L1978.70 1001.75 L1980.70 1003.81 L1982.70 1001.61 L1984.70 1002.10 L1986.60 1002.59 L1987.60 786.26 L1988.70 793.16 L1990.00 801.63 L1993.60 789.15 L1994.70 804.43 L1996.50 829.53 L1998.70 902.18 L2001.00 978.14 L2002.70 985.07 L2004.70 993.22 L2007.00 1002.40 L2008.70 1001.98 L2010.70 1002.82 L2012.70 1003.38 L2014.70 1003.08 L2016.70 1002.60 L2018.70 1003.15 L2020.70 1002.25 L2022.70 1002.89 L2024.70 1003.88 L2026.70 1003.62 L2028.70 1003.82 L2030.70 1002.35 L2032.70 1002.84 L2034.70 1001.81 L2036.70 1003.45 L2038.70 1002.31 L2040.70 1001.55 L2042.70 1002.24 L2044.70 1002.88 L2046.70 1000.79 L2048.70 1001.46 L2050.70 1003.51 L2052.70 1002.75 L2054.70 1002.63 L2056.70 1001.30 L2058.70 1004.01 L2060.70 1003.54 L2062.70 1003.26 L2064.70 1001.72 L2066.70 1003.16 L2068.70 1003.64 L2070.70 1002.39 L2072.70 1002.45 L2074.70 1002.26 L2076.70 1003.18 L2078.70 1002.46 L2080.70 1002.40 L2082.70 1001.43 L2084.70 1001.25 L2086.70 1003.46 L2088.20 1004.00" fill="none" stroke="#3a1a4a" stroke-width="3.80" stroke-linejoin="round" stroke-linecap="round" />
<path d="M1688.70 1023.15 L1690.70 1023.62 L1692.70 1021.96 L1694.70 1022.37 L1696.70 1022.73 L1698.70 1022.27 L1700.70 1023.83 L1702.70 1021.29 L1704.70 1021.93 L1706.70 1022.12 L1708.70 1021.81 L1710.70 1023.13 L1712.70 1020.72 L1714.70 1023.38 L1716.70 1023.18 L1718.70 1022.68 L1720.70 1023.60 L1722.70 1024.41 L1724.70 1022.57 L1726.70 1023.04 L1728.70 1022.75 L1730.70 1022.86 L1732.70 1021.99 L1734.70 1021.81 L1736.70 1022.94 L1738.70 1021.98 L1740.70 1023.21 L1742.70 1023.10 L1744.70 1022.05 L1746.70 1022.73 L1748.70 1022.49 L1750.70 1022.31 L1752.70 1023.39 L1754.70 1022.46 L1756.70 1022.63 L1758.70 1020.78 L1760.70 1022.94 L1762.70 1021.21 L1764.70 1022.10 L1766.70 1023.80 L1768.70 1023.95 L1770.70 1022.10 L1772.70 1021.36 L1774.70 1022.77 L1776.70 1022.09 L1778.70 1022.72 L1780.70 1021.29 L1782.70 1023.38 L1784.70 1023.75 L1786.00 1022.35 L1787.50 787.20 L1789.50 810.72 L1790.70 864.89 L1792.00 923.59 L1794.70 992.09 L1795.80 1019.99 L1796.70 1019.42 L1798.70 1020.71 L1800.70 1018.50 L1802.70 1019.01 L1804.70 1019.53 L1806.70 1020.82 L1808.70 1019.95 L1810.70 1019.57 L1812.70 1020.70 L1814.70 1019.91 L1816.70 1019.80 L1818.70 1020.11 L1820.70 1020.68 L1822.70 1022.70 L1824.70 1019.53 L1826.70 1020.71 L1828.70 1020.37 L1830.70 1020.30 L1832.70 1021.83 L1834.70 1021.23 L1836.70 1021.17 L1838.70 1020.24 L1840.70 1019.94 L1842.70 1020.93 L1844.70 1020.46 L1846.70 1020.24 L1848.70 1021.32 L1850.70 1019.76 L1852.70 1020.19 L1854.70 1021.50 L1856.70 1020.79 L1858.70 1021.45 L1860.70 1020.19 L1862.70 1021.53 L1864.70 1020.36 L1866.70 1022.13 L1868.70 1021.68 L1870.70 1021.43 L1872.70 1022.36 L1874.70 1021.38 L1876.70 1020.58 L1878.70 1022.45 L1880.70 1021.46 L1882.70 1022.22 L1884.70 1021.34 L1886.70 1022.22 L1888.70 1020.53 L1890.70 1020.22 L1892.70 1020.13 L1894.70 1021.99 L1896.70 1019.71 L1898.70 1019.89 L1900.70 1020.22 L1902.70 1021.64 L1904.70 1021.84 L1906.70 1020.81 L1908.70 1022.19 L1910.70 1021.82 L1912.70 1022.59 L1914.70 1022.39 L1916.70 1021.04 L1918.70 1021.82 L1920.70 1021.53 L1922.70 1022.09 L1924.70 1021.89 L1926.70 1021.77 L1928.70 1022.37 L1930.70 1021.85 L1932.70 1022.44 L1934.70 1021.88 L1936.70 1021.74 L1938.70 1022.68 L1940.70 1022.73 L1942.70 1023.00 L1944.70 1022.51 L1946.70 1021.82 L1948.70 1022.18 L1950.70 1022.18 L1952.70 1020.59 L1954.70 1021.15 L1956.70 1023.41 L1958.70 1022.10 L1960.70 1019.76 L1962.70 1022.10 L1964.70 1022.36 L1966.70 1021.21 L1968.70 1024.19 L1970.70 1023.25 L1972.70 1023.01 L1974.70 1022.18 L1976.70 1022.78 L1978.70 1023.11 L1980.70 1022.82 L1982.70 1021.88 L1984.70 1022.63 L1985.90 1022.35 L1987.40 787.20 L1988.70 796.61 L1990.00 806.01 L1993.00 923.59 L1994.70 970.41 L1996.50 1019.99 L1998.70 1018.97 L2000.70 1020.95 L2002.70 1020.91 L2004.70 1019.20 L2006.70 1020.30 L2008.70 1019.71 L2010.70 1020.10 L2012.70 1021.37 L2014.70 1021.03 L2016.70 1022.29 L2018.70 1020.76 L2020.70 1019.79 L2022.70 1020.87 L2024.70 1018.77 L2026.70 1022.37 L2028.70 1021.14 L2030.70 1021.35 L2032.70 1021.15 L2034.70 1020.36 L2036.70 1021.02 L2038.70 1020.51 L2040.70 1020.79 L2042.70 1021.54 L2044.70 1020.30 L2046.70 1022.74 L2048.70 1020.51 L2050.70 1022.16 L2052.70 1020.97 L2054.70 1020.51 L2056.70 1021.93 L2058.70 1021.79 L2060.70 1021.51 L2062.70 1021.70 L2064.70 1021.27 L2066.70 1022.20 L2068.70 1021.49 L2070.70 1021.96 L2072.70 1022.92 L2074.70 1020.93 L2076.70 1021.61 L2078.70 1021.57 L2080.70 1021.51 L2082.70 1021.10 L2084.70 1022.05 L2086.70 1022.46 L2088.20 1022.27" fill="none" stroke="#27727b" stroke-width="3.80" stroke-linejoin="round" stroke-linecap="round" />
<path d="M1688.70 1046.88 L1690.70 1048.80 L1692.70 1048.82 L1694.70 1048.29 L1696.70 1047.38 L1698.70 1047.50 L1700.70 1049.87 L1702.70 1049.68 L1704.70 1048.62 L1706.70 1047.45 L1708.70 1049.28 L1710.70 1048.37 L1712.70 1049.63 L1714.70 1047.73 L1716.70 1048.61 L1718.70 1048.04 L1720.70 1048.85 L1722.70 1047.68 L1724.70 1048.99 L1726.70 1047.89 L1728.70 1047.46 L1730.70 1048.69 L1732.70 1048.41 L1734.70 1046.43 L1736.70 1048.18 L1738.70 1048.30 L1740.70 1048.37 L1742.70 1049.94 L1744.70 1047.67 L1746.70 1048.20 L1748.70 1046.78 L1750.70 1046.98 L1752.70 1047.73 L1754.70 1048.10 L1756.70 1048.05 L1758.70 1048.75 L1760.70 1048.83 L1762.70 1049.07 L1764.70 1048.07 L1766.70 1048.63 L1768.70 1047.60 L1770.70 1048.52 L1772.70 1048.62 L1774.70 1047.79 L1776.70 1045.49 L1778.70 1047.66 L1780.70 1050.39 L1782.70 1048.13 L1784.70 1047.67 L1786.20 1048.21 L1789.00 815.42 L1791.50 947.10 L1792.70 989.43 L1794.30 1045.86 L1796.70 1045.64 L1798.70 1044.90 L1800.70 1046.23 L1802.70 1047.23 L1804.70 1046.87 L1806.70 1045.51 L1808.70 1045.20 L1810.70 1044.88 L1812.70 1046.46 L1814.70 1046.59 L1816.70 1046.80 L1818.70 1046.44 L1820.70 1045.16 L1822.70 1044.58 L1824.70 1047.17 L1826.70 1045.54 L1828.70 1047.88 L1830.70 1044.51 L1832.70 1045.39 L1834.70 1045.55 L1836.70 1046.59 L1838.70 1046.95 L1840.70 1045.95 L1842.70 1046.94 L1844.70 1045.36 L1846.70 1046.07 L1848.70 1045.49 L1850.70 1046.07 L1852.70 1046.02 L1854.70 1046.84 L1856.70 1049.52 L1858.70 1045.47 L1860.70 1046.49 L1862.70 1047.26 L1864.70 1046.76 L1866.70 1047.93 L1868.70 1045.89 L1870.70 1047.43 L1872.70 1046.14 L1874.70 1047.52 L1876.70 1046.99 L1878.70 1047.09 L1880.70 1046.40 L1882.70 1045.36 L1884.70 1046.02 L1886.70 1047.57 L1888.70 1046.78 L1890.70 1047.65 L1892.70 1045.93 L1894.70 1047.61 L1896.70 1047.95 L1898.70 1045.25 L1900.70 1047.42 L1902.70 1048.81 L1904.70 1046.56 L1906.70 1048.06 L1908.70 1047.28 L1910.70 1047.99 L1912.70 1046.97 L1914.70 1046.67 L1916.70 1046.98 L1918.70 1047.06 L1920.70 1046.90 L1922.70 1046.68 L1924.70 1048.38 L1926.70 1046.98 L1928.70 1046.47 L1930.70 1046.73 L1932.70 1047.96 L1934.70 1045.68 L1936.70 1048.01 L1938.70 1048.22 L1940.70 1048.72 L1942.70 1047.29 L1944.70 1047.00 L1946.70 1047.86 L1948.70 1047.86 L1950.70 1048.88 L1952.70 1047.84 L1954.70 1047.46 L1956.70 1046.72 L1958.70 1047.69 L1960.70 1047.95 L1962.70 1048.91 L1964.70 1048.03 L1966.70 1049.11 L1968.70 1049.04 L1970.70 1047.37 L1972.70 1047.08 L1974.70 1047.53 L1976.70 1047.89 L1978.70 1047.43 L1980.70 1048.73 L1982.70 1048.74 L1984.70 1049.21 L1986.20 1048.21 L1989.00 815.42 L1991.50 947.10 L1992.70 989.43 L1994.30 1045.86 L1996.70 1045.28 L1998.70 1046.94 L2000.70 1043.77 L2002.70 1046.78 L2004.70 1046.86 L2006.70 1046.13 L2008.70 1046.50 L2010.70 1046.44 L2012.70 1047.41 L2014.70 1047.76 L2016.70 1046.43 L2018.70 1047.85 L2020.70 1045.98 L2022.70 1046.92 L2024.70 1046.99 L2026.70 1045.61 L2028.70 1047.00 L2030.70 1046.21 L2032.70 1047.49 L2034.70 1046.12 L2036.70 1045.43 L2038.70 1045.88 L2040.70 1047.04 L2042.70 1047.33 L2044.70 1047.41 L2046.70 1046.53 L2048.70 1047.89 L2050.70 1046.81 L2052.70 1047.14 L2054.70 1048.20 L2056.70 1047.29 L2058.70 1045.89 L2060.70 1048.12 L2062.70 1047.57 L2064.70 1047.30 L2066.70 1048.76 L2068.70 1047.19 L2070.70 1048.32 L2072.70 1047.94 L2074.70 1050.06 L2076.70 1046.41 L2078.70 1048.14 L2080.70 1048.31 L2082.70 1049.00 L2084.70 1047.77 L2086.70 1047.64 L2088.20 1049.38" fill="none" stroke="#7cba5b" stroke-width="3.80" stroke-linejoin="round" stroke-linecap="round" />
<rect x="2051.00" y="829.10" width="13.80" height="96.30" fill="#441a57" />
<rect x="2072.30" y="849.20" width="13.70" height="76.20" fill="#2a7d8e" />
<rect x="2093.10" y="871.80" width="13.80" height="53.60" fill="#81c253" />
<rect x="2044.00" y="774.10" width="70.80" height="150.30" fill="none" stroke="#505153" stroke-width="2.00" />
<text x="2024.65" y="784.60" font-size="25.50" font-family="Liberation Sans, sans-serif" stroke-width="0.45" fill="#414042" stroke="#414042">4</text>
<text x="2024.90" y="927.60" font-size="25.50" font-family="Liberation Sans, sans-serif" stroke-width="0.45" fill="#414042" stroke="#414042">0</text>
<text transform="translate(2037.50 896.00) rotate(-90)" x="-1.09" y="0" font-size="26.00" font-family="Liberation Sans, sans-serif" stroke-width="0.45" fill="#414042" stroke="#414042" textLength="100.22" lengthAdjust="spacingAndGlyphs">avg. rate</text>
</svg>
</body></html>
